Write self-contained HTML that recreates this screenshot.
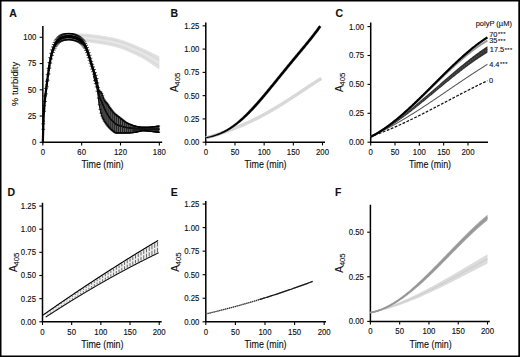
<!DOCTYPE html>
<html><head><meta charset="utf-8"><style>
html,body{margin:0;padding:0;background:#fff;}
body{width:520px;height:357px;overflow:hidden;}
svg{display:block;}
text{stroke:#111;stroke-width:0.12px;}
</style></head><body>
<svg width="520" height="357" viewBox="0 0 520 357" font-family="Liberation Sans, sans-serif" fill="#111">
<rect x="0" y="0" width="520" height="357" fill="#fff"/>
<path d="M42.85 26.00V142.30H162.20" fill="none" stroke="#000" stroke-width="1.5"/>
<line x1="39.65" y1="142.30" x2="42.85" y2="142.30" stroke="#000" stroke-width="1.1"/>
<text transform="translate(36.35,145.20) scale(1,1.12)" text-anchor="end" font-size="7.8">0</text>
<line x1="39.65" y1="116.05" x2="42.85" y2="116.05" stroke="#000" stroke-width="1.1"/>
<text transform="translate(36.35,118.95) scale(1,1.12)" text-anchor="end" font-size="7.8">25</text>
<line x1="39.65" y1="89.80" x2="42.85" y2="89.80" stroke="#000" stroke-width="1.1"/>
<text transform="translate(36.35,92.70) scale(1,1.12)" text-anchor="end" font-size="7.8">50</text>
<line x1="39.65" y1="63.55" x2="42.85" y2="63.55" stroke="#000" stroke-width="1.1"/>
<text transform="translate(36.35,66.45) scale(1,1.12)" text-anchor="end" font-size="7.8">75</text>
<line x1="39.65" y1="37.30" x2="42.85" y2="37.30" stroke="#000" stroke-width="1.1"/>
<text transform="translate(36.35,40.20) scale(1,1.12)" text-anchor="end" font-size="7.8">100</text>
<line x1="42.85" y1="142.30" x2="42.85" y2="145.50" stroke="#000" stroke-width="1.1"/>
<text transform="translate(42.85,155.20) scale(1,1.12)" text-anchor="middle" font-size="7.8">0</text>
<line x1="81.68" y1="142.30" x2="81.68" y2="145.50" stroke="#000" stroke-width="1.1"/>
<text transform="translate(81.68,155.20) scale(1,1.12)" text-anchor="middle" font-size="7.8">60</text>
<line x1="120.51" y1="142.30" x2="120.51" y2="145.50" stroke="#000" stroke-width="1.1"/>
<text transform="translate(120.51,155.20) scale(1,1.12)" text-anchor="middle" font-size="7.8">120</text>
<line x1="159.35" y1="142.30" x2="159.35" y2="145.50" stroke="#000" stroke-width="1.1"/>
<text transform="translate(159.35,155.20) scale(1,1.12)" text-anchor="middle" font-size="7.8">180</text>
<text transform="translate(9.3,17.0) scale(1,1.12)" font-size="10.5" font-weight="bold">A</text>
<text transform="translate(102.5,167.7) scale(1,1.14)" text-anchor="middle" font-size="8.9">Time (min)</text>
<text transform="translate(17.5,84.0) rotate(-90)" text-anchor="middle" font-size="9.5">% turbidity</text>
<polygon points="62.27,35.22 63.08,35.01 63.90,34.78 64.71,34.54 65.53,34.30 66.34,34.08 67.16,33.89 67.98,33.75 68.79,33.67 69.61,33.61 70.42,33.57 71.24,33.53 72.06,33.50 72.87,33.47 73.69,33.45 74.50,33.43 75.32,33.42 76.13,33.42 76.95,33.42 77.77,33.43 78.58,33.45 79.40,33.46 80.21,33.49 81.03,33.52 81.85,33.55 82.66,33.59 83.48,33.63 84.29,33.68 85.11,33.73 85.92,33.79 86.74,33.85 87.56,33.91 88.37,33.98 89.19,34.05 90.00,34.12 90.82,34.20 91.63,34.28 92.45,34.37 93.27,34.45 94.08,34.55 94.90,34.64 95.71,34.74 96.53,34.84 97.35,34.95 98.16,35.06 98.98,35.17 99.79,35.28 100.61,35.40 101.42,35.53 102.24,35.65 103.06,35.78 103.87,35.92 104.69,36.05 105.50,36.19 106.32,36.33 107.13,36.48 107.95,36.63 108.77,36.78 109.58,36.94 110.40,37.10 111.21,37.26 112.03,37.43 112.85,37.60 113.66,37.77 114.48,37.95 115.29,38.13 116.11,38.32 116.92,38.52 117.74,38.73 118.56,38.95 119.37,39.19 120.19,39.43 121.00,39.68 121.82,39.94 122.64,40.21 123.45,40.49 124.27,40.77 125.08,41.06 125.90,41.36 126.71,41.67 127.53,41.98 128.35,42.29 129.16,42.61 129.98,42.94 130.79,43.27 131.61,43.60 132.42,43.93 133.24,44.27 134.06,44.61 134.87,44.96 135.69,45.30 136.50,45.65 137.32,46.00 138.14,46.34 138.95,46.69 139.77,47.04 140.58,47.38 141.40,47.74 142.21,48.10 143.03,48.47 143.85,48.84 144.66,49.21 145.48,49.59 146.29,49.98 147.11,50.37 147.92,50.76 148.74,51.15 149.56,51.55 150.37,51.95 151.19,52.35 152.00,52.75 152.82,53.15 153.64,53.55 154.45,53.95 155.27,54.35 156.08,54.75 156.90,55.14 157.71,55.54 158.53,55.93 159.35,56.32 159.35,69.52 158.53,68.99 157.71,68.46 156.90,67.91 156.08,67.37 155.27,66.81 154.45,66.25 153.64,65.69 152.82,65.13 152.00,64.57 151.19,64.01 150.37,63.45 149.56,62.89 148.74,62.35 147.92,61.80 147.11,61.27 146.29,60.74 145.48,60.23 144.66,59.73 143.85,59.24 143.03,58.76 142.21,58.30 141.40,57.86 140.58,57.43 139.77,57.03 138.95,56.63 138.14,56.23 137.32,55.83 136.50,55.44 135.69,55.05 134.87,54.66 134.06,54.27 133.24,53.89 132.42,53.51 131.61,53.14 130.79,52.77 129.98,52.40 129.16,52.04 128.35,51.69 127.53,51.35 126.71,51.00 125.90,50.67 125.08,50.35 124.27,50.03 123.45,49.72 122.64,49.41 121.82,49.12 121.00,48.84 120.19,48.56 119.37,48.30 118.56,48.04 117.74,47.80 116.92,47.57 116.11,47.34 115.29,47.13 114.48,46.94 113.66,46.74 112.85,46.55 112.03,46.37 111.21,46.19 110.40,46.01 109.58,45.84 108.77,45.67 107.95,45.51 107.13,45.35 106.32,45.19 105.50,45.04 104.69,44.89 103.87,44.75 103.06,44.61 102.24,44.47 101.42,44.33 100.61,44.20 99.79,44.07 98.98,43.94 98.16,43.82 97.35,43.70 96.53,43.58 95.71,43.46 94.90,43.35 94.08,43.24 93.27,43.13 92.45,43.02 91.63,42.92 90.82,42.81 90.00,42.71 89.19,42.60 88.37,42.49 87.56,42.37 86.74,42.25 85.92,42.12 85.11,41.99 84.29,41.86 83.48,41.72 82.66,41.59 81.85,41.45 81.03,41.31 80.21,41.18 79.40,41.04 78.58,40.91 77.77,40.77 76.95,40.65 76.13,40.52 75.32,40.40 74.50,40.29 73.69,40.18 72.87,40.07 72.06,39.98 71.24,39.89 70.42,39.81 69.61,39.74 68.79,39.67 67.98,39.64 67.16,39.66 66.34,39.73 65.53,39.82 64.71,39.92 63.90,40.03 63.08,40.14 62.27,40.22" fill="#e1e1e1"/>
<polyline points="62.27,38.97 63.08,38.85 63.90,38.72 64.71,38.58 65.53,38.44 66.34,38.32 67.16,38.22 67.98,38.17 68.79,38.17 69.61,38.21 70.42,38.25 71.24,38.30 72.06,38.36 72.87,38.42 73.69,38.49 74.50,38.57 75.32,38.66 76.13,38.75 76.95,38.84 77.77,38.94 78.58,39.04 79.40,39.15 80.21,39.25 81.03,39.36 81.85,39.47 82.66,39.59 83.48,39.70 84.29,39.81 85.11,39.93 85.92,40.04 86.74,40.15 87.56,40.26 88.37,40.36 89.19,40.46 90.00,40.56 90.82,40.66 91.63,40.76 92.45,40.86 93.27,40.96 94.08,41.06 94.90,41.17 95.71,41.28 96.53,41.39 97.35,41.51 98.16,41.63 98.98,41.75 99.79,41.87 100.61,42.00 101.42,42.13 102.24,42.26 103.06,42.40 103.87,42.54 104.69,42.68 105.50,42.83 106.32,42.98 107.13,43.13 107.95,43.29 108.77,43.45 109.58,43.62 110.40,43.78 111.21,43.96 112.03,44.13 112.85,44.31 113.66,44.50 114.48,44.69 115.29,44.88 116.11,45.09 116.92,45.30 117.74,45.53 118.56,45.77 119.37,46.02 120.19,46.28 121.00,46.55 121.82,46.83 122.64,47.11 123.45,47.41 124.27,47.71 125.08,48.02 125.90,48.34 126.71,48.67 127.53,49.00 128.35,49.34 129.16,49.69 129.98,50.04 130.79,50.39 131.61,50.75 132.42,51.12 133.24,51.49 134.06,51.86 134.87,52.23 135.69,52.61 136.50,52.99 137.32,53.37 138.14,53.76 138.95,54.14 139.77,54.53 140.58,54.92 141.40,55.33 142.21,55.75 143.03,56.19 143.85,56.64 144.66,57.10 145.48,57.57 146.29,58.05 147.11,58.54 147.92,59.04 148.74,59.55 149.56,60.06 150.37,60.57 151.19,61.09 152.00,61.61 152.82,62.13 153.64,62.66 154.45,63.18 155.27,63.70 156.08,64.21 156.90,64.72 157.71,65.23 158.53,65.73 159.35,66.22" fill="none" stroke="#d2d2d2" stroke-width="0.8"/>
<polyline points="62.27,36.47 63.08,36.29 63.90,36.09 64.71,35.88 65.53,35.68 66.34,35.49 67.16,35.34 67.98,35.22 68.79,35.17 69.61,35.14 70.42,35.13 71.24,35.12 72.06,35.12 72.87,35.12 73.69,35.13 74.50,35.15 75.32,35.17 76.13,35.20 76.95,35.23 77.77,35.27 78.58,35.31 79.40,35.36 80.21,35.41 81.03,35.47 81.85,35.53 82.66,35.59 83.48,35.65 84.29,35.72 85.11,35.80 85.92,35.87 86.74,35.95 87.56,36.02 88.37,36.10 89.19,36.19 90.00,36.27 90.82,36.35 91.63,36.44 92.45,36.53 93.27,36.62 94.08,36.72 94.90,36.82 95.71,36.92 96.53,37.03 97.35,37.13 98.16,37.25 98.98,37.36 99.79,37.48 100.61,37.60 101.42,37.73 102.24,37.86 103.06,37.99 103.87,38.12 104.69,38.26 105.50,38.40 106.32,38.55 107.13,38.70 107.95,38.85 108.77,39.01 109.58,39.16 110.40,39.33 111.21,39.49 112.03,39.66 112.85,39.84 113.66,40.01 114.48,40.19 115.29,40.38 116.11,40.57 116.92,40.78 117.74,41.00 118.56,41.23 119.37,41.47 120.19,41.71 121.00,41.97 121.82,42.24 122.64,42.51 123.45,42.80 124.27,43.09 125.08,43.38 125.90,43.69 126.71,44.00 127.53,44.32 128.35,44.64 129.16,44.97 129.98,45.30 130.79,45.64 131.61,45.98 132.42,46.33 133.24,46.68 134.06,47.03 134.87,47.38 135.69,47.74 136.50,48.10 137.32,48.45 138.14,48.81 138.95,49.17 139.77,49.53 140.58,49.90 141.40,50.27 142.21,50.65 143.03,51.04 143.85,51.44 144.66,51.84 145.48,52.25 146.29,52.67 147.11,53.09 147.92,53.52 148.74,53.95 149.56,54.39 150.37,54.82 151.19,55.26 152.00,55.70 152.82,56.14 153.64,56.59 154.45,57.03 155.27,57.47 156.08,57.90 156.90,58.34 157.71,58.77 158.53,59.20 159.35,59.62" fill="none" stroke="#d2d2d2" stroke-width="0.8"/>
<polyline points="62.27,37.72 63.08,37.57 63.90,37.41 64.71,37.23 65.53,37.06 66.34,36.90 67.16,36.78 67.98,36.70 68.79,36.67 69.61,36.67 70.42,36.69 71.24,36.71 72.06,36.74 72.87,36.77 73.69,36.81 74.50,36.86 75.32,36.91 76.13,36.97 76.95,37.04 77.77,37.10 78.58,37.18 79.40,37.25 80.21,37.33 81.03,37.41 81.85,37.50 82.66,37.59 83.48,37.68 84.29,37.77 85.11,37.86 85.92,37.95 86.74,38.05 87.56,38.14 88.37,38.23 89.19,38.33 90.00,38.42 90.82,38.51 91.63,38.60 92.45,38.69 93.27,38.79 94.08,38.89 94.90,39.00 95.71,39.10 96.53,39.21 97.35,39.32 98.16,39.44 98.98,39.56 99.79,39.68 100.61,39.80 101.42,39.93 102.24,40.06 103.06,40.19 103.87,40.33 104.69,40.47 105.50,40.62 106.32,40.76 107.13,40.92 107.95,41.07 108.77,41.23 109.58,41.39 110.40,41.56 111.21,41.73 112.03,41.90 112.85,42.08 113.66,42.26 114.48,42.44 115.29,42.63 116.11,42.83 116.92,43.04 117.74,43.27 118.56,43.50 119.37,43.74 120.19,44.00 121.00,44.26 121.82,44.53 122.64,44.81 123.45,45.10 124.27,45.40 125.08,45.70 125.90,46.02 126.71,46.34 127.53,46.66 128.35,46.99 129.16,47.33 129.98,47.67 130.79,48.02 131.61,48.37 132.42,48.72 133.24,49.08 134.06,49.44 134.87,49.81 135.69,50.17 136.50,50.54 137.32,50.91 138.14,51.29 138.95,51.66 139.77,52.03 140.58,52.41 141.40,52.80 142.21,53.20 143.03,53.61 143.85,54.04 144.66,54.47 145.48,54.91 146.29,55.36 147.11,55.82 147.92,56.28 148.74,56.75 149.56,57.22 150.37,57.70 151.19,58.18 152.00,58.66 152.82,59.14 153.64,59.62 154.45,60.10 155.27,60.58 156.08,61.06 156.90,61.53 157.71,62.00 158.53,62.46 159.35,62.92" fill="none" stroke="#ececec" stroke-width="0.9"/>
<polygon points="93.33,72.37 93.55,73.00 93.77,73.63 93.99,74.26 94.21,74.89 94.44,75.51 94.66,76.14 94.88,76.77 95.10,77.39 95.32,78.02 95.54,78.65 95.76,79.28 95.98,79.91 96.20,80.55 96.42,81.18 96.64,81.82 96.86,82.47 97.08,83.12 97.31,83.78 97.53,84.50 97.75,85.27 97.97,86.08 98.19,86.91 98.41,87.72 98.63,88.51 98.85,89.25 99.07,89.92 99.29,90.50 99.51,90.97 99.73,91.30 99.96,91.50 100.18,91.65 100.40,91.76 100.62,91.87 100.84,92.00 101.06,92.20 101.28,92.48 101.50,92.84 101.72,93.28 101.94,93.77 102.16,94.30 102.38,94.88 102.60,95.48 102.83,96.09 103.05,96.70 103.27,97.31 103.49,97.90 103.71,98.46 103.93,98.97 104.15,99.44 104.37,99.84 104.59,100.20 104.81,100.55 105.03,100.88 105.25,101.19 105.47,101.49 105.70,101.79 105.92,102.07 106.14,102.35 106.36,102.63 106.58,102.90 106.80,103.17 107.02,103.45 107.24,103.73 107.46,104.02 107.68,104.32 107.90,104.63 108.12,104.95 108.34,105.29 108.57,105.63 108.79,105.98 109.01,106.33 109.23,106.67 109.45,107.02 109.67,107.36 109.89,107.69 110.11,108.00 110.33,108.31 110.55,108.61 110.77,108.92 110.99,109.22 111.22,109.51 111.44,109.81 111.66,110.10 111.88,110.39 112.10,110.67 112.32,110.95 112.54,111.22 112.76,111.49 112.98,111.75 113.20,112.00 113.42,112.25 113.64,112.49 113.86,112.72 114.09,112.94 114.31,113.16 114.53,113.37 114.75,113.58 114.97,113.78 115.19,113.97 115.41,114.17 115.63,114.36 115.85,114.54 116.07,114.72 116.29,114.90 116.51,115.08 116.73,115.25 116.96,115.43 117.18,115.60 117.40,115.76 117.62,115.93 117.84,116.10 118.06,116.26 118.28,116.43 118.50,116.59 118.72,116.76 118.94,116.92 119.16,117.09 119.38,117.26 119.60,117.42 119.83,117.59 120.05,117.76 120.27,117.94 120.49,118.11 120.71,118.29 120.93,118.47 121.15,118.65 121.37,118.82 121.59,119.00 121.81,119.18 122.03,119.36 122.25,119.54 122.48,119.72 122.70,119.90 122.92,120.08 123.14,120.25 123.36,120.43 123.58,120.60 123.80,120.77 124.02,120.94 124.24,121.11 124.46,121.27 124.68,121.43 124.90,121.59 125.12,121.74 125.35,121.89 125.57,122.04 125.79,122.18 126.01,122.32 126.23,122.45 126.45,122.58 126.67,122.71 126.89,122.83 127.11,122.94 127.33,123.05 127.55,123.16 127.77,123.27 127.99,123.38 128.22,123.48 128.44,123.59 128.66,123.69 128.88,123.79 129.10,123.89 129.32,123.99 129.54,124.09 129.76,124.18 129.98,124.28 130.20,124.37 130.42,124.46 130.64,124.55 130.86,124.64 131.09,124.72 131.31,124.81 131.53,124.89 131.75,124.97 131.97,125.05 132.19,125.13 132.41,125.21 132.63,125.28 132.85,125.35 133.07,125.43 133.29,125.50 133.51,125.57 133.74,125.63 133.96,125.70 134.18,125.76 134.40,125.82 134.62,125.88 134.84,125.94 135.06,126.00 135.28,126.06 135.50,126.12 135.72,126.18 135.94,126.24 136.16,126.31 136.38,126.37 136.61,126.43 136.83,126.49 137.05,126.55 137.27,126.61 137.49,126.67 137.71,126.73 137.93,126.78 138.15,126.84 138.37,126.90 138.59,126.95 138.81,127.01 139.03,127.06 139.25,127.11 139.48,127.16 139.70,127.20 139.92,127.25 140.14,127.29 140.36,127.33 140.58,127.37 140.80,127.40 141.02,127.44 141.24,127.47 141.46,127.49 141.68,127.52 141.90,127.54 142.12,127.56 142.35,127.57 142.57,127.59 142.79,127.59 143.01,127.60 143.23,127.60 143.45,127.60 143.67,127.60 143.89,127.59 144.11,127.59 144.33,127.58 144.55,127.57 144.77,127.56 145.00,127.55 145.22,127.54 145.44,127.53 145.66,127.52 145.88,127.50 146.10,127.49 146.32,127.47 146.54,127.46 146.76,127.44 146.98,127.42 147.20,127.40 147.42,127.38 147.64,127.36 147.87,127.34 148.09,127.32 148.31,127.30 148.53,127.28 148.75,127.26 148.97,127.23 149.19,127.21 149.41,127.19 149.63,127.17 149.85,127.14 150.07,127.12 150.29,127.10 150.51,127.08 150.74,127.05 150.96,127.03 151.18,127.01 151.40,126.99 151.62,126.97 151.84,126.94 152.06,126.92 152.28,126.90 152.50,126.87 152.72,126.85 152.94,126.82 153.16,126.79 153.38,126.77 153.61,126.74 153.83,126.71 154.05,126.68 154.27,126.65 154.49,126.62 154.71,126.59 154.93,126.56 155.15,126.53 155.37,126.50 155.59,126.46 155.81,126.43 156.03,126.40 156.26,126.37 156.48,126.33 156.70,126.30 156.92,126.27 157.14,126.24 157.36,126.20 157.58,126.17 157.80,126.14 158.02,126.11 158.24,126.07 158.46,126.04 158.68,126.01 158.90,125.98 159.13,125.95 159.35,125.92 159.35,132.43 159.13,132.40 158.90,132.38 158.68,132.35 158.46,132.32 158.24,132.29 158.02,132.27 157.80,132.24 157.58,132.21 157.36,132.18 157.14,132.15 156.92,132.12 156.70,132.10 156.48,132.07 156.26,132.04 156.03,132.01 155.81,131.98 155.59,131.95 155.37,131.93 155.15,131.90 154.93,131.87 154.71,131.84 154.49,131.82 154.27,131.79 154.05,131.76 153.83,131.74 153.61,131.71 153.38,131.68 153.16,131.66 152.94,131.63 152.72,131.61 152.50,131.58 152.28,131.56 152.06,131.54 151.84,131.51 151.62,131.49 151.40,131.47 151.18,131.44 150.96,131.42 150.74,131.39 150.51,131.37 150.29,131.34 150.07,131.32 149.85,131.29 149.63,131.27 149.41,131.24 149.19,131.22 148.97,131.19 148.75,131.16 148.53,131.14 148.31,131.11 148.09,131.09 147.87,131.06 147.64,131.04 147.42,131.02 147.20,130.99 146.98,130.97 146.76,130.95 146.54,130.93 146.32,130.91 146.10,130.89 145.88,130.87 145.66,130.85 145.44,130.84 145.22,130.82 145.00,130.81 144.77,130.79 144.55,130.78 144.33,130.77 144.11,130.77 143.89,130.76 143.67,130.75 143.45,130.75 143.23,130.75 143.01,130.75 142.79,130.76 142.57,130.77 142.35,130.79 142.12,130.81 141.90,130.83 141.68,130.86 141.46,130.90 141.24,130.93 141.02,130.97 140.80,131.02 140.58,131.06 140.36,131.11 140.14,131.16 139.92,131.21 139.70,131.27 139.48,131.33 139.25,131.38 139.03,131.44 138.81,131.50 138.59,131.56 138.37,131.62 138.15,131.68 137.93,131.74 137.71,131.80 137.49,131.86 137.27,131.92 137.05,131.98 136.83,132.03 136.61,132.08 136.38,132.14 136.16,132.18 135.94,132.23 135.72,132.28 135.50,132.32 135.28,132.35 135.06,132.39 134.84,132.42 134.62,132.45 134.40,132.47 134.18,132.50 133.96,132.53 133.74,132.55 133.51,132.58 133.29,132.60 133.07,132.63 132.85,132.65 132.63,132.67 132.41,132.70 132.19,132.72 131.97,132.74 131.75,132.76 131.53,132.77 131.31,132.79 131.09,132.80 130.86,132.82 130.64,132.83 130.42,132.84 130.20,132.85 129.98,132.86 129.76,132.87 129.54,132.88 129.32,132.88 129.10,132.89 128.88,132.90 128.66,132.91 128.44,132.91 128.22,132.92 127.99,132.93 127.77,132.94 127.55,132.94 127.33,132.95 127.11,132.96 126.89,132.96 126.67,132.97 126.45,132.97 126.23,132.98 126.01,132.99 125.79,132.99 125.57,133.00 125.35,133.00 125.12,133.01 124.90,133.01 124.68,133.02 124.46,133.02 124.24,133.02 124.02,133.03 123.80,133.03 123.58,133.04 123.36,133.04 123.14,133.04 122.92,133.04 122.70,133.05 122.48,133.05 122.25,133.05 122.03,133.05 121.81,133.06 121.59,133.06 121.37,133.06 121.15,133.06 120.93,133.06 120.71,133.06 120.49,133.06 120.27,133.06 120.05,133.06 119.83,133.06 119.60,133.06 119.38,133.05 119.16,133.05 118.94,133.05 118.72,133.04 118.50,133.04 118.28,133.03 118.06,133.03 117.84,133.02 117.62,133.02 117.40,133.01 117.18,133.00 116.96,133.00 116.73,132.99 116.51,132.98 116.29,132.97 116.07,132.96 115.85,132.94 115.63,132.90 115.41,132.83 115.19,132.73 114.97,132.62 114.75,132.48 114.53,132.33 114.31,132.17 114.09,132.00 113.86,131.82 113.64,131.63 113.42,131.45 113.20,131.27 112.98,131.09 112.76,130.92 112.54,130.75 112.32,130.58 112.10,130.40 111.88,130.21 111.66,130.03 111.44,129.83 111.22,129.64 110.99,129.43 110.77,129.23 110.55,129.02 110.33,128.80 110.11,128.58 109.89,128.36 109.67,128.13 109.45,127.89 109.23,127.65 109.01,127.41 108.79,127.16 108.57,126.91 108.34,126.65 108.12,126.39 107.90,126.12 107.68,125.84 107.46,125.57 107.24,125.29 107.02,125.02 106.80,124.74 106.58,124.45 106.36,124.16 106.14,123.86 105.92,123.56 105.70,123.25 105.47,122.94 105.25,122.61 105.03,122.28 104.81,121.94 104.59,121.58 104.37,121.21 104.15,120.84 103.93,120.45 103.71,120.04 103.49,119.62 103.27,119.19 103.05,118.74 102.83,118.27 102.60,117.78 102.38,117.28 102.16,116.76 101.94,116.22 101.72,115.64 101.50,115.00 101.28,114.28 101.06,113.50 100.84,112.65 100.62,111.74 100.40,110.78 100.18,109.78 99.96,108.72 99.73,107.62 99.51,106.49 99.29,105.28 99.07,103.85 98.85,102.22 98.63,100.45 98.41,98.61 98.19,96.75 97.97,94.93 97.75,93.21 97.53,91.64 97.31,90.28 97.08,89.16 96.86,88.12 96.64,87.14 96.42,86.21 96.20,85.34 95.98,84.50 95.76,83.70 95.54,82.94 95.32,82.19 95.10,81.47 94.88,80.75 94.66,80.05 94.44,79.34 94.21,78.63 93.99,77.91 93.77,77.18 93.55,76.41 93.33,75.63" fill="#666"/>
<polyline points="93.33,72.37 93.55,73.00 93.77,73.63 93.99,74.26 94.21,74.89 94.44,75.51 94.66,76.14 94.88,76.77 95.10,77.39 95.32,78.02 95.54,78.65 95.76,79.28 95.98,79.91 96.20,80.55 96.42,81.18 96.64,81.82 96.86,82.47 97.08,83.12 97.31,83.78 97.53,84.50 97.75,85.27 97.97,86.08 98.19,86.91 98.41,87.72 98.63,88.51 98.85,89.25 99.07,89.92 99.29,90.50 99.51,90.97 99.73,91.30 99.96,91.50 100.18,91.65 100.40,91.76 100.62,91.87 100.84,92.00 101.06,92.20 101.28,92.48 101.50,92.84 101.72,93.28 101.94,93.77 102.16,94.30 102.38,94.88 102.60,95.48 102.83,96.09 103.05,96.70 103.27,97.31 103.49,97.90 103.71,98.46 103.93,98.97 104.15,99.44 104.37,99.84 104.59,100.20 104.81,100.55 105.03,100.88 105.25,101.19 105.47,101.49 105.70,101.79 105.92,102.07 106.14,102.35 106.36,102.63 106.58,102.90 106.80,103.17 107.02,103.45 107.24,103.73 107.46,104.02 107.68,104.32 107.90,104.63 108.12,104.95 108.34,105.29 108.57,105.63 108.79,105.98 109.01,106.33 109.23,106.67 109.45,107.02 109.67,107.36 109.89,107.69 110.11,108.00 110.33,108.31 110.55,108.61 110.77,108.92 110.99,109.22 111.22,109.51 111.44,109.81 111.66,110.10 111.88,110.39 112.10,110.67 112.32,110.95 112.54,111.22 112.76,111.49 112.98,111.75 113.20,112.00 113.42,112.25 113.64,112.49 113.86,112.72 114.09,112.94 114.31,113.16 114.53,113.37 114.75,113.58 114.97,113.78 115.19,113.97 115.41,114.17 115.63,114.36 115.85,114.54 116.07,114.72 116.29,114.90 116.51,115.08 116.73,115.25 116.96,115.43 117.18,115.60 117.40,115.76 117.62,115.93 117.84,116.10 118.06,116.26 118.28,116.43 118.50,116.59 118.72,116.76 118.94,116.92 119.16,117.09 119.38,117.26 119.60,117.42 119.83,117.59 120.05,117.76 120.27,117.94 120.49,118.11 120.71,118.29 120.93,118.47 121.15,118.65 121.37,118.82 121.59,119.00 121.81,119.18 122.03,119.36 122.25,119.54 122.48,119.72 122.70,119.90 122.92,120.08 123.14,120.25 123.36,120.43 123.58,120.60 123.80,120.77 124.02,120.94 124.24,121.11 124.46,121.27 124.68,121.43 124.90,121.59 125.12,121.74 125.35,121.89 125.57,122.04 125.79,122.18 126.01,122.32 126.23,122.45 126.45,122.58 126.67,122.71 126.89,122.83 127.11,122.94 127.33,123.05 127.55,123.16 127.77,123.27 127.99,123.38 128.22,123.48 128.44,123.59 128.66,123.69 128.88,123.79 129.10,123.89 129.32,123.99 129.54,124.09 129.76,124.18 129.98,124.28 130.20,124.37 130.42,124.46 130.64,124.55 130.86,124.64 131.09,124.72 131.31,124.81 131.53,124.89 131.75,124.97 131.97,125.05 132.19,125.13 132.41,125.21 132.63,125.28 132.85,125.35 133.07,125.43 133.29,125.50 133.51,125.57 133.74,125.63 133.96,125.70 134.18,125.76 134.40,125.82 134.62,125.88 134.84,125.94 135.06,126.00 135.28,126.06 135.50,126.12 135.72,126.18 135.94,126.24 136.16,126.31 136.38,126.37 136.61,126.43 136.83,126.49 137.05,126.55 137.27,126.61 137.49,126.67 137.71,126.73 137.93,126.78 138.15,126.84 138.37,126.90 138.59,126.95 138.81,127.01 139.03,127.06 139.25,127.11 139.48,127.16 139.70,127.20 139.92,127.25 140.14,127.29 140.36,127.33 140.58,127.37 140.80,127.40 141.02,127.44 141.24,127.47 141.46,127.49 141.68,127.52 141.90,127.54 142.12,127.56 142.35,127.57 142.57,127.59 142.79,127.59 143.01,127.60 143.23,127.60 143.45,127.60 143.67,127.60 143.89,127.59 144.11,127.59 144.33,127.58 144.55,127.57 144.77,127.56 145.00,127.55 145.22,127.54 145.44,127.53 145.66,127.52 145.88,127.50 146.10,127.49 146.32,127.47 146.54,127.46 146.76,127.44 146.98,127.42 147.20,127.40 147.42,127.38 147.64,127.36 147.87,127.34 148.09,127.32 148.31,127.30 148.53,127.28 148.75,127.26 148.97,127.23 149.19,127.21 149.41,127.19 149.63,127.17 149.85,127.14 150.07,127.12 150.29,127.10 150.51,127.08 150.74,127.05 150.96,127.03 151.18,127.01 151.40,126.99 151.62,126.97 151.84,126.94 152.06,126.92 152.28,126.90 152.50,126.87 152.72,126.85 152.94,126.82 153.16,126.79 153.38,126.77 153.61,126.74 153.83,126.71 154.05,126.68 154.27,126.65 154.49,126.62 154.71,126.59 154.93,126.56 155.15,126.53 155.37,126.50 155.59,126.46 155.81,126.43 156.03,126.40 156.26,126.37 156.48,126.33 156.70,126.30 156.92,126.27 157.14,126.24 157.36,126.20 157.58,126.17 157.80,126.14 158.02,126.11 158.24,126.07 158.46,126.04 158.68,126.01 158.90,125.98 159.13,125.95 159.35,125.92" fill="none" stroke="#000" stroke-width="1.1"/>
<polyline points="93.33,75.63 93.55,76.41 93.77,77.18 93.99,77.91 94.21,78.63 94.44,79.34 94.66,80.05 94.88,80.75 95.10,81.47 95.32,82.19 95.54,82.94 95.76,83.70 95.98,84.50 96.20,85.34 96.42,86.21 96.64,87.14 96.86,88.12 97.08,89.16 97.31,90.28 97.53,91.64 97.75,93.21 97.97,94.93 98.19,96.75 98.41,98.61 98.63,100.45 98.85,102.22 99.07,103.85 99.29,105.28 99.51,106.49 99.73,107.62 99.96,108.72 100.18,109.78 100.40,110.78 100.62,111.74 100.84,112.65 101.06,113.50 101.28,114.28 101.50,115.00 101.72,115.64 101.94,116.22 102.16,116.76 102.38,117.28 102.60,117.78 102.83,118.27 103.05,118.74 103.27,119.19 103.49,119.62 103.71,120.04 103.93,120.45 104.15,120.84 104.37,121.21 104.59,121.58 104.81,121.94 105.03,122.28 105.25,122.61 105.47,122.94 105.70,123.25 105.92,123.56 106.14,123.86 106.36,124.16 106.58,124.45 106.80,124.74 107.02,125.02 107.24,125.29 107.46,125.57 107.68,125.84 107.90,126.12 108.12,126.39 108.34,126.65 108.57,126.91 108.79,127.16 109.01,127.41 109.23,127.65 109.45,127.89 109.67,128.13 109.89,128.36 110.11,128.58 110.33,128.80 110.55,129.02 110.77,129.23 110.99,129.43 111.22,129.64 111.44,129.83 111.66,130.03 111.88,130.21 112.10,130.40 112.32,130.58 112.54,130.75 112.76,130.92 112.98,131.09 113.20,131.27 113.42,131.45 113.64,131.63 113.86,131.82 114.09,132.00 114.31,132.17 114.53,132.33 114.75,132.48 114.97,132.62 115.19,132.73 115.41,132.83 115.63,132.90 115.85,132.94 116.07,132.96 116.29,132.97 116.51,132.98 116.73,132.99 116.96,133.00 117.18,133.00 117.40,133.01 117.62,133.02 117.84,133.02 118.06,133.03 118.28,133.03 118.50,133.04 118.72,133.04 118.94,133.05 119.16,133.05 119.38,133.05 119.60,133.06 119.83,133.06 120.05,133.06 120.27,133.06 120.49,133.06 120.71,133.06 120.93,133.06 121.15,133.06 121.37,133.06 121.59,133.06 121.81,133.06 122.03,133.05 122.25,133.05 122.48,133.05 122.70,133.05 122.92,133.04 123.14,133.04 123.36,133.04 123.58,133.04 123.80,133.03 124.02,133.03 124.24,133.02 124.46,133.02 124.68,133.02 124.90,133.01 125.12,133.01 125.35,133.00 125.57,133.00 125.79,132.99 126.01,132.99 126.23,132.98 126.45,132.97 126.67,132.97 126.89,132.96 127.11,132.96 127.33,132.95 127.55,132.94 127.77,132.94 127.99,132.93 128.22,132.92 128.44,132.91 128.66,132.91 128.88,132.90 129.10,132.89 129.32,132.88 129.54,132.88 129.76,132.87 129.98,132.86 130.20,132.85 130.42,132.84 130.64,132.83 130.86,132.82 131.09,132.80 131.31,132.79 131.53,132.77 131.75,132.76 131.97,132.74 132.19,132.72 132.41,132.70 132.63,132.67 132.85,132.65 133.07,132.63 133.29,132.60 133.51,132.58 133.74,132.55 133.96,132.53 134.18,132.50 134.40,132.47 134.62,132.45 134.84,132.42 135.06,132.39 135.28,132.35 135.50,132.32 135.72,132.28 135.94,132.23 136.16,132.18 136.38,132.14 136.61,132.08 136.83,132.03 137.05,131.98 137.27,131.92 137.49,131.86 137.71,131.80 137.93,131.74 138.15,131.68 138.37,131.62 138.59,131.56 138.81,131.50 139.03,131.44 139.25,131.38 139.48,131.33 139.70,131.27 139.92,131.21 140.14,131.16 140.36,131.11 140.58,131.06 140.80,131.02 141.02,130.97 141.24,130.93 141.46,130.90 141.68,130.86 141.90,130.83 142.12,130.81 142.35,130.79 142.57,130.77 142.79,130.76 143.01,130.75 143.23,130.75 143.45,130.75 143.67,130.75 143.89,130.76 144.11,130.77 144.33,130.77 144.55,130.78 144.77,130.79 145.00,130.81 145.22,130.82 145.44,130.84 145.66,130.85 145.88,130.87 146.10,130.89 146.32,130.91 146.54,130.93 146.76,130.95 146.98,130.97 147.20,130.99 147.42,131.02 147.64,131.04 147.87,131.06 148.09,131.09 148.31,131.11 148.53,131.14 148.75,131.16 148.97,131.19 149.19,131.22 149.41,131.24 149.63,131.27 149.85,131.29 150.07,131.32 150.29,131.34 150.51,131.37 150.74,131.39 150.96,131.42 151.18,131.44 151.40,131.47 151.62,131.49 151.84,131.51 152.06,131.54 152.28,131.56 152.50,131.58 152.72,131.61 152.94,131.63 153.16,131.66 153.38,131.68 153.61,131.71 153.83,131.74 154.05,131.76 154.27,131.79 154.49,131.82 154.71,131.84 154.93,131.87 155.15,131.90 155.37,131.93 155.59,131.95 155.81,131.98 156.03,132.01 156.26,132.04 156.48,132.07 156.70,132.10 156.92,132.12 157.14,132.15 157.36,132.18 157.58,132.21 157.80,132.24 158.02,132.27 158.24,132.29 158.46,132.32 158.68,132.35 158.90,132.38 159.13,132.40 159.35,132.43" fill="none" stroke="#000" stroke-width="1.1"/>
<polyline points="42.85,142.30 43.01,136.45 43.17,130.65 43.34,125.62 43.50,121.18" fill="none" stroke="#000" stroke-width="2.21" stroke-linecap="round"/>
<polyline points="43.50,121.18 43.66,117.21 43.82,113.95 43.98,111.29 44.14,108.94" fill="none" stroke="#000" stroke-width="2.22" stroke-linecap="round"/>
<polyline points="44.14,108.94 44.31,106.82 44.47,104.90 44.63,103.09 44.79,101.35" fill="none" stroke="#000" stroke-width="2.23" stroke-linecap="round"/>
<polyline points="44.79,101.35 44.95,99.68 45.12,98.11 45.28,96.62 45.44,95.20" fill="none" stroke="#000" stroke-width="2.24" stroke-linecap="round"/>
<polyline points="45.44,95.20 45.60,93.82 45.76,92.47 45.92,91.14 46.09,89.80" fill="none" stroke="#000" stroke-width="2.25" stroke-linecap="round"/>
<polyline points="46.09,89.80 46.25,88.46 46.41,87.14 46.57,85.84 46.73,84.55" fill="none" stroke="#000" stroke-width="2.25" stroke-linecap="round"/>
<polyline points="46.73,84.55 46.90,83.29 47.06,82.04 47.22,80.80 47.38,79.59" fill="none" stroke="#000" stroke-width="2.27" stroke-linecap="round"/>
<polyline points="47.38,79.59 47.54,78.39 47.70,77.20 47.87,76.02 48.03,74.84" fill="none" stroke="#000" stroke-width="2.27" stroke-linecap="round"/>
<polyline points="48.03,74.84 48.19,73.66 48.35,72.49 48.51,71.33 48.67,70.19" fill="none" stroke="#000" stroke-width="2.29" stroke-linecap="round"/>
<polyline points="48.67,70.19 48.84,69.06 49.00,67.97 49.16,66.90 49.32,65.87" fill="none" stroke="#000" stroke-width="2.29" stroke-linecap="round"/>
<polyline points="49.32,65.87 49.48,64.87 49.65,63.92 49.81,63.01 49.97,62.11" fill="none" stroke="#000" stroke-width="2.31" stroke-linecap="round"/>
<polyline points="49.97,62.11 50.13,61.23 50.29,60.37 50.45,59.52 50.62,58.70" fill="none" stroke="#000" stroke-width="2.31" stroke-linecap="round"/>
<polyline points="50.62,58.70 50.78,57.90 50.94,57.12 51.10,56.37 51.26,55.64" fill="none" stroke="#000" stroke-width="2.33" stroke-linecap="round"/>
<polyline points="51.26,55.64 51.43,54.94 51.59,54.28 51.75,53.65 51.91,53.05" fill="none" stroke="#000" stroke-width="2.33" stroke-linecap="round"/>
<polyline points="51.91,53.05 52.07,52.48 52.23,51.92 52.40,51.38 52.56,50.85" fill="none" stroke="#000" stroke-width="2.34" stroke-linecap="round"/>
<polyline points="52.56,50.85 52.72,50.33 52.88,49.83 53.04,49.35 53.21,48.88" fill="none" stroke="#000" stroke-width="2.35" stroke-linecap="round"/>
<polyline points="53.21,48.88 53.37,48.43 53.53,47.99 53.69,47.57 53.85,47.17" fill="none" stroke="#000" stroke-width="2.36" stroke-linecap="round"/>
<polyline points="53.85,47.17 54.01,46.77 54.18,46.40 54.34,46.04 54.50,45.70" fill="none" stroke="#000" stroke-width="2.38" stroke-linecap="round"/>
<polyline points="54.50,45.70 54.66,45.37 54.82,45.05 54.98,44.74 55.15,44.43" fill="none" stroke="#000" stroke-width="2.38" stroke-linecap="round"/>
<polyline points="55.15,44.43 55.31,44.14 55.47,43.86 55.63,43.58 55.79,43.31" fill="none" stroke="#000" stroke-width="2.40" stroke-linecap="round"/>
<polyline points="55.79,43.31 55.96,43.05 56.12,42.81 56.28,42.57 56.44,42.33" fill="none" stroke="#000" stroke-width="2.40" stroke-linecap="round"/>
<polyline points="56.44,42.33 56.60,42.11 56.76,41.90 56.93,41.69 57.09,41.50" fill="none" stroke="#000" stroke-width="2.42" stroke-linecap="round"/>
<polyline points="57.09,41.50 57.25,41.31 57.41,41.12 57.57,40.94 57.74,40.76" fill="none" stroke="#000" stroke-width="2.42" stroke-linecap="round"/>
<polyline points="57.74,40.76 57.90,40.59 58.06,40.42 58.22,40.25 58.38,40.08" fill="none" stroke="#000" stroke-width="2.44" stroke-linecap="round"/>
<polyline points="58.38,40.08 58.54,39.93 58.71,39.77 58.87,39.62 59.03,39.48" fill="none" stroke="#000" stroke-width="2.44" stroke-linecap="round"/>
<polyline points="59.03,39.48 59.19,39.34 59.35,39.21 59.52,39.09 59.68,38.97" fill="none" stroke="#000" stroke-width="2.46" stroke-linecap="round"/>
<polyline points="59.68,38.97 59.84,38.86 60.00,38.75 60.16,38.65 60.32,38.56" fill="none" stroke="#000" stroke-width="2.46" stroke-linecap="round"/>
<polyline points="60.32,38.56 60.49,38.47 60.65,38.39 60.81,38.31 60.97,38.22" fill="none" stroke="#000" stroke-width="2.48" stroke-linecap="round"/>
<polyline points="60.97,38.22 61.13,38.14 61.30,38.07 61.46,37.99 61.62,37.92" fill="none" stroke="#000" stroke-width="2.48" stroke-linecap="round"/>
<polyline points="61.62,37.92 61.78,37.85 61.94,37.78 62.10,37.71 62.27,37.65" fill="none" stroke="#000" stroke-width="2.50" stroke-linecap="round"/>
<polyline points="62.27,37.65 62.43,37.59 62.59,37.53 62.75,37.47 62.91,37.42" fill="none" stroke="#000" stroke-width="2.50" stroke-linecap="round"/>
<polyline points="62.91,37.42 63.08,37.37 63.24,37.32 63.40,37.27 63.56,37.23" fill="none" stroke="#000" stroke-width="2.52" stroke-linecap="round"/>
<polyline points="63.56,37.23 63.72,37.19 63.88,37.15 64.05,37.12 64.21,37.09" fill="none" stroke="#000" stroke-width="2.52" stroke-linecap="round"/>
<polyline points="64.21,37.09 64.37,37.06 64.53,37.03 64.69,37.00 64.85,36.98" fill="none" stroke="#000" stroke-width="2.54" stroke-linecap="round"/>
<polyline points="64.85,36.98 65.02,36.95 65.18,36.92 65.34,36.89 65.50,36.87" fill="none" stroke="#000" stroke-width="2.54" stroke-linecap="round"/>
<polyline points="65.50,36.87 65.66,36.84 65.83,36.82 65.99,36.79 66.15,36.77" fill="none" stroke="#000" stroke-width="2.56" stroke-linecap="round"/>
<polyline points="66.15,36.77 66.31,36.75 66.47,36.73 66.63,36.71 66.80,36.69" fill="none" stroke="#000" stroke-width="2.56" stroke-linecap="round"/>
<polyline points="66.80,36.69 66.96,36.67 67.12,36.65 67.28,36.64 67.44,36.62" fill="none" stroke="#000" stroke-width="2.58" stroke-linecap="round"/>
<polyline points="67.44,36.62 67.61,36.61 67.77,36.60 67.93,36.59 68.09,36.58" fill="none" stroke="#000" stroke-width="2.58" stroke-linecap="round"/>
<polyline points="68.09,36.58 68.25,36.57 68.41,36.57 68.58,36.57 68.74,36.56" fill="none" stroke="#000" stroke-width="2.60" stroke-linecap="round"/>
<polyline points="68.74,36.56 68.90,36.57 69.06,36.57 69.22,36.57 69.39,36.58" fill="none" stroke="#000" stroke-width="2.60" stroke-linecap="round"/>
<polyline points="69.39,36.58 69.55,36.59 69.71,36.60 69.87,36.61 70.03,36.63" fill="none" stroke="#000" stroke-width="2.58" stroke-linecap="round"/>
<polyline points="70.03,36.63 70.19,36.64 70.36,36.66 70.52,36.68 70.68,36.70" fill="none" stroke="#000" stroke-width="2.58" stroke-linecap="round"/>
<polyline points="70.68,36.70 70.84,36.72 71.00,36.75 71.17,36.77 71.33,36.80" fill="none" stroke="#000" stroke-width="2.56" stroke-linecap="round"/>
<polyline points="71.33,36.80 71.49,36.82 71.65,36.85 71.81,36.88 71.97,36.91" fill="none" stroke="#000" stroke-width="2.56" stroke-linecap="round"/>
<polyline points="71.97,36.91 72.14,36.94 72.30,36.97 72.46,37.00 72.62,37.03" fill="none" stroke="#000" stroke-width="2.54" stroke-linecap="round"/>
<polyline points="72.62,37.03 72.78,37.06 72.94,37.10 73.11,37.13 73.27,37.16" fill="none" stroke="#000" stroke-width="2.54" stroke-linecap="round"/>
<polyline points="73.27,37.16 73.43,37.20 73.59,37.23 73.75,37.27 73.92,37.30" fill="none" stroke="#000" stroke-width="2.52" stroke-linecap="round"/>
<polyline points="73.92,37.30 74.08,37.34 74.24,37.37 74.40,37.41 74.56,37.46" fill="none" stroke="#000" stroke-width="2.52" stroke-linecap="round"/>
<polyline points="74.56,37.46 74.72,37.50 74.89,37.55 75.05,37.60 75.21,37.66" fill="none" stroke="#000" stroke-width="2.50" stroke-linecap="round"/>
<polyline points="75.21,37.66 75.37,37.71 75.53,37.77 75.70,37.83 75.86,37.89" fill="none" stroke="#000" stroke-width="2.50" stroke-linecap="round"/>
<polyline points="75.86,37.89 76.02,37.95 76.18,38.02 76.34,38.08 76.50,38.15" fill="none" stroke="#000" stroke-width="2.48" stroke-linecap="round"/>
<polyline points="76.50,38.15 76.67,38.22 76.83,38.29 76.99,38.37 77.15,38.44" fill="none" stroke="#000" stroke-width="2.48" stroke-linecap="round"/>
<polyline points="77.15,38.44 77.31,38.52 77.48,38.60 77.64,38.67 77.80,38.75" fill="none" stroke="#000" stroke-width="2.46" stroke-linecap="round"/>
<polyline points="77.80,38.75 77.96,38.84 78.12,38.92 78.28,39.00 78.45,39.09" fill="none" stroke="#000" stroke-width="2.46" stroke-linecap="round"/>
<polyline points="78.45,39.09 78.61,39.17 78.77,39.26 78.93,39.35 79.09,39.45" fill="none" stroke="#000" stroke-width="2.44" stroke-linecap="round"/>
<polyline points="79.09,39.45 79.25,39.55 79.42,39.65 79.58,39.76 79.74,39.86" fill="none" stroke="#000" stroke-width="2.44" stroke-linecap="round"/>
<polyline points="79.74,39.86 79.90,39.98 80.06,40.09 80.23,40.21 80.39,40.33" fill="none" stroke="#000" stroke-width="2.42" stroke-linecap="round"/>
<polyline points="80.39,40.33 80.55,40.45 80.71,40.58 80.87,40.71 81.03,40.85" fill="none" stroke="#000" stroke-width="2.42" stroke-linecap="round"/>
<polyline points="81.03,40.85 81.20,40.98 81.36,41.12 81.52,41.26 81.68,41.41" fill="none" stroke="#000" stroke-width="2.40" stroke-linecap="round"/>
<polyline points="81.68,41.41 81.84,41.56 82.01,41.71 82.17,41.87 82.33,42.03" fill="none" stroke="#000" stroke-width="2.40" stroke-linecap="round"/>
<polyline points="82.33,42.03 82.49,42.19 82.65,42.36 82.81,42.53 82.98,42.72" fill="none" stroke="#000" stroke-width="2.38" stroke-linecap="round"/>
<polyline points="82.98,42.72 83.14,42.91 83.30,43.10 83.46,43.31 83.62,43.52" fill="none" stroke="#000" stroke-width="2.38" stroke-linecap="round"/>
<polyline points="83.62,43.52 83.79,43.74 83.95,43.96 84.11,44.20 84.27,44.44" fill="none" stroke="#000" stroke-width="2.36" stroke-linecap="round"/>
<polyline points="84.27,44.44 84.43,44.69 84.59,44.94 84.76,45.21 84.92,45.48" fill="none" stroke="#000" stroke-width="2.35" stroke-linecap="round"/>
<polyline points="84.92,45.48 85.08,45.76 85.24,46.05 85.40,46.36 85.57,46.69" fill="none" stroke="#000" stroke-width="2.35" stroke-linecap="round"/>
<polyline points="85.57,46.69 85.73,47.03 85.89,47.38 86.05,47.75 86.21,48.14" fill="none" stroke="#000" stroke-width="2.33" stroke-linecap="round"/>
<polyline points="86.21,48.14 86.37,48.53 86.54,48.93 86.70,49.35 86.86,49.77" fill="none" stroke="#000" stroke-width="2.33" stroke-linecap="round"/>
<polyline points="86.86,49.77 87.02,50.21 87.18,50.65 87.34,51.10 87.51,51.55" fill="none" stroke="#000" stroke-width="2.31" stroke-linecap="round"/>
<polyline points="87.51,51.55 87.67,52.01 87.83,52.48 87.99,52.95 88.15,53.42" fill="none" stroke="#000" stroke-width="2.31" stroke-linecap="round"/>
<polyline points="88.15,53.42 88.32,53.90 88.48,54.38 88.64,54.85 88.80,55.33" fill="none" stroke="#000" stroke-width="2.29" stroke-linecap="round"/>
<polyline points="88.80,55.33 88.96,55.81 89.12,56.29 89.29,56.78 89.45,57.28" fill="none" stroke="#000" stroke-width="2.29" stroke-linecap="round"/>
<polyline points="89.45,57.28 89.61,57.80 89.77,58.32 89.93,58.86 90.10,59.40" fill="none" stroke="#000" stroke-width="2.27" stroke-linecap="round"/>
<polyline points="90.10,59.40 90.26,59.95 90.42,60.51 90.58,61.07 90.74,61.64" fill="none" stroke="#000" stroke-width="2.27" stroke-linecap="round"/>
<polyline points="90.74,61.64 90.90,62.20 91.07,62.77 91.23,63.33 91.39,63.89" fill="none" stroke="#000" stroke-width="2.25" stroke-linecap="round"/>
<polyline points="91.39,63.89 91.55,64.44 91.71,64.99 91.88,65.54 92.04,66.07" fill="none" stroke="#000" stroke-width="2.25" stroke-linecap="round"/>
<polyline points="92.04,66.07 92.20,66.59 92.36,67.10 92.52,67.61 92.68,68.10" fill="none" stroke="#000" stroke-width="2.24" stroke-linecap="round"/>
<polyline points="92.68,68.10 92.85,68.58 93.01,69.06 93.17,69.53 93.33,70.00" fill="none" stroke="#000" stroke-width="2.23" stroke-linecap="round"/>
<polyline points="93.33,70.00 93.49,70.46 93.66,70.93 93.82,71.39 93.98,71.85" fill="none" stroke="#000" stroke-width="2.22" stroke-linecap="round"/>
<polyline points="93.98,71.85 94.14,72.32 94.30,72.78 94.46,73.25 94.63,73.73" fill="none" stroke="#000" stroke-width="2.21" stroke-linecap="round"/>
<polyline points="94.63,73.73 94.79,74.21 94.95,74.71 95.11,75.21 95.27,75.72" fill="none" stroke="#000" stroke-width="2.16" stroke-linecap="round"/>
<polyline points="95.27,75.72 95.44,76.24 95.60,76.77 95.76,77.32 95.92,77.88" fill="none" stroke="#000" stroke-width="2.07" stroke-linecap="round"/>
<polyline points="95.92,77.88 96.08,78.46 96.24,79.05 96.41,79.66 96.57,80.30" fill="none" stroke="#000" stroke-width="1.98" stroke-linecap="round"/>
<polyline points="96.57,80.30 96.73,80.95 96.89,81.65 97.05,82.43 97.21,83.28" fill="none" stroke="#000" stroke-width="1.89" stroke-linecap="round"/>
<polyline points="97.21,83.28 97.38,84.19 97.54,85.15 97.70,86.14 97.86,87.16" fill="none" stroke="#000" stroke-width="1.81" stroke-linecap="round"/>
<polyline points="97.86,87.16 98.02,88.19 98.19,89.23 98.35,90.25 98.51,91.25" fill="none" stroke="#000" stroke-width="1.72" stroke-linecap="round"/>
<polyline points="98.51,91.25 98.67,92.21 98.83,93.13 98.99,93.99 99.16,94.78" fill="none" stroke="#000" stroke-width="1.63" stroke-linecap="round"/>
<polyline points="99.16,94.78 99.32,95.49 99.48,96.10 99.64,96.65 99.80,97.16" fill="none" stroke="#000" stroke-width="1.54" stroke-linecap="round"/>
<polyline points="99.80,97.16 99.97,97.65 100.13,98.12 100.29,98.56 100.45,98.98" fill="none" stroke="#000" stroke-width="1.50" stroke-linecap="round"/>
<polyline points="100.45,98.98 100.61,99.39 100.77,99.78 100.94,100.16 101.10,100.53" fill="none" stroke="#000" stroke-width="1.49" stroke-linecap="round"/>
<polyline points="101.10,100.53 101.26,100.89 101.42,101.25 101.58,101.60 101.75,101.96" fill="none" stroke="#000" stroke-width="1.49" stroke-linecap="round"/>
<polyline points="101.75,101.96 101.91,102.32 102.07,102.69 102.23,103.06 102.39,103.45" fill="none" stroke="#000" stroke-width="1.49" stroke-linecap="round"/>
<polyline points="102.39,103.45 102.55,103.84 102.72,104.24 102.88,104.64 103.04,105.04" fill="none" stroke="#000" stroke-width="1.48" stroke-linecap="round"/>
<polyline points="103.04,105.04 103.20,105.44 103.36,105.83 103.53,106.23 103.69,106.62" fill="none" stroke="#000" stroke-width="1.48" stroke-linecap="round"/>
<polyline points="103.69,106.62 103.85,107.01 104.01,107.40 104.17,107.78 104.33,108.16" fill="none" stroke="#000" stroke-width="1.48" stroke-linecap="round"/>
<polyline points="104.33,108.16 104.50,108.53 104.66,108.89 104.82,109.25 104.98,109.60" fill="none" stroke="#000" stroke-width="1.47" stroke-linecap="round"/>
<polyline points="104.98,109.60 105.14,109.94 105.30,110.28 105.47,110.60 105.63,110.93" fill="none" stroke="#000" stroke-width="1.47" stroke-linecap="round"/>
<polyline points="105.63,110.93 105.79,111.25 105.95,111.57 106.11,111.89 106.28,112.20" fill="none" stroke="#000" stroke-width="1.46" stroke-linecap="round"/>
<polyline points="106.28,112.20 106.44,112.52 106.60,112.83 106.76,113.13 106.92,113.44" fill="none" stroke="#000" stroke-width="1.46" stroke-linecap="round"/>
<polyline points="106.92,113.44 107.08,113.74 107.25,114.03 107.41,114.32 107.57,114.61" fill="none" stroke="#000" stroke-width="1.46" stroke-linecap="round"/>
<polyline points="107.57,114.61 107.73,114.89 107.89,115.17 108.06,115.44 108.22,115.71" fill="none" stroke="#000" stroke-width="1.45" stroke-linecap="round"/>
<polyline points="108.22,115.71 108.38,115.97 108.54,116.23 108.70,116.48 108.86,116.72" fill="none" stroke="#000" stroke-width="1.45" stroke-linecap="round"/>
<polyline points="108.86,116.72 109.03,116.96 109.19,117.19 109.35,117.41 109.51,117.63" fill="none" stroke="#000" stroke-width="1.44" stroke-linecap="round"/>
<polyline points="109.51,117.63 109.67,117.83 109.84,118.04 110.00,118.24 110.16,118.43" fill="none" stroke="#000" stroke-width="1.44" stroke-linecap="round"/>
<polyline points="110.16,118.43 110.32,118.62 110.48,118.80 110.64,118.99 110.81,119.16" fill="none" stroke="#000" stroke-width="1.44" stroke-linecap="round"/>
<polyline points="110.81,119.16 110.97,119.34 111.13,119.51 111.29,119.67 111.45,119.84" fill="none" stroke="#000" stroke-width="1.43" stroke-linecap="round"/>
<polyline points="111.45,119.84 111.62,120.00 111.78,120.16 111.94,120.32 112.10,120.48" fill="none" stroke="#000" stroke-width="1.43" stroke-linecap="round"/>
<polyline points="112.10,120.48 112.26,120.63 112.42,120.79 112.59,120.94 112.75,121.10" fill="none" stroke="#000" stroke-width="1.43" stroke-linecap="round"/>
<polyline points="112.75,121.10 112.91,121.25 113.07,121.41 113.23,121.56 113.39,121.72" fill="none" stroke="#000" stroke-width="1.42" stroke-linecap="round"/>
<polyline points="113.39,121.72 113.56,121.87 113.72,122.03 113.88,122.19 114.04,122.35" fill="none" stroke="#000" stroke-width="1.42" stroke-linecap="round"/>
<polyline points="114.04,122.35 114.20,122.52 114.37,122.69 114.53,122.87 114.69,123.05" fill="none" stroke="#000" stroke-width="1.41" stroke-linecap="round"/>
<polyline points="114.69,123.05 114.85,123.22 115.01,123.40 115.17,123.57 115.34,123.73" fill="none" stroke="#000" stroke-width="1.41" stroke-linecap="round"/>
<polyline points="115.34,123.73 115.50,123.88 115.66,124.02 115.82,124.14 115.98,124.24" fill="none" stroke="#000" stroke-width="1.41" stroke-linecap="round"/>
<polyline points="115.98,124.24 116.15,124.33 116.31,124.42 116.47,124.50 116.63,124.58" fill="none" stroke="#000" stroke-width="1.40" stroke-linecap="round"/>
<polyline points="116.63,124.58 116.79,124.65 116.95,124.72 117.12,124.79 117.28,124.86" fill="none" stroke="#000" stroke-width="1.40" stroke-linecap="round"/>
<polyline points="117.28,124.86 117.44,124.92 117.60,124.98 117.76,125.04 117.93,125.10" fill="none" stroke="#000" stroke-width="1.39" stroke-linecap="round"/>
<polyline points="117.93,125.10 118.09,125.15 118.25,125.21 118.41,125.26 118.57,125.31" fill="none" stroke="#000" stroke-width="1.39" stroke-linecap="round"/>
<polyline points="118.57,125.31 118.73,125.36 118.90,125.41 119.06,125.46 119.22,125.51" fill="none" stroke="#000" stroke-width="1.39" stroke-linecap="round"/>
<polyline points="119.22,125.51 119.38,125.56 119.54,125.61 119.71,125.66 119.87,125.71" fill="none" stroke="#000" stroke-width="1.38" stroke-linecap="round"/>
<polyline points="119.87,125.71 120.03,125.76 120.19,125.81 120.35,125.86 120.51,125.92" fill="none" stroke="#000" stroke-width="1.38" stroke-linecap="round"/>
<polyline points="120.51,125.92 120.68,125.97 120.84,126.02 121.00,126.07 121.16,126.12" fill="none" stroke="#000" stroke-width="1.38" stroke-linecap="round"/>
<polyline points="121.16,126.12 121.32,126.17 121.48,126.22 121.65,126.27 121.81,126.32" fill="none" stroke="#000" stroke-width="1.37" stroke-linecap="round"/>
<polyline points="121.81,126.32 121.97,126.37 122.13,126.42 122.29,126.47 122.46,126.52" fill="none" stroke="#000" stroke-width="1.37" stroke-linecap="round"/>
<polyline points="122.46,126.52 122.62,126.57 122.78,126.61 122.94,126.66 123.10,126.71" fill="none" stroke="#000" stroke-width="1.36" stroke-linecap="round"/>
<polyline points="123.10,126.71 123.26,126.75 123.43,126.80 123.59,126.85 123.75,126.89" fill="none" stroke="#000" stroke-width="1.36" stroke-linecap="round"/>
<polyline points="123.75,126.89 123.91,126.93 124.07,126.98 124.24,127.02 124.40,127.06" fill="none" stroke="#000" stroke-width="1.36" stroke-linecap="round"/>
<polyline points="124.40,127.06 124.56,127.10 124.72,127.14 124.88,127.18 125.04,127.22" fill="none" stroke="#000" stroke-width="1.35" stroke-linecap="round"/>
<polyline points="125.04,127.22 125.21,127.26 125.37,127.29 125.53,127.33 125.69,127.36" fill="none" stroke="#000" stroke-width="1.35" stroke-linecap="round"/>
<polyline points="125.69,127.36 125.85,127.40 126.02,127.43 126.18,127.46 126.34,127.49" fill="none" stroke="#000" stroke-width="1.34" stroke-linecap="round"/>
<polyline points="126.34,127.49 126.50,127.52 126.66,127.55 126.82,127.57 126.99,127.60" fill="none" stroke="#000" stroke-width="1.34" stroke-linecap="round"/>
<polyline points="126.99,127.60 127.15,127.62 127.31,127.65 127.47,127.67 127.63,127.70" fill="none" stroke="#000" stroke-width="1.34" stroke-linecap="round"/>
<polyline points="127.63,127.70 127.79,127.72 127.96,127.74 128.12,127.76 128.28,127.79" fill="none" stroke="#000" stroke-width="1.33" stroke-linecap="round"/>
<polyline points="128.28,127.79 128.44,127.81 128.60,127.83 128.77,127.85 128.93,127.87" fill="none" stroke="#000" stroke-width="1.33" stroke-linecap="round"/>
<polyline points="128.93,127.87 129.09,127.89 129.25,127.91 129.41,127.93 129.57,127.95" fill="none" stroke="#000" stroke-width="1.32" stroke-linecap="round"/>
<polyline points="129.57,127.95 129.74,127.97 129.90,127.99 130.06,128.01 130.22,128.02" fill="none" stroke="#000" stroke-width="1.32" stroke-linecap="round"/>
<polyline points="130.22,128.02 130.38,128.04 130.55,128.06 130.71,128.08 130.87,128.09" fill="none" stroke="#000" stroke-width="1.32" stroke-linecap="round"/>
<polyline points="130.87,128.09 131.03,128.11 131.19,128.13 131.35,128.14 131.52,128.16" fill="none" stroke="#000" stroke-width="1.31" stroke-linecap="round"/>
<polyline points="131.52,128.16 131.68,128.17 131.84,128.19 132.00,128.20 132.16,128.22" fill="none" stroke="#000" stroke-width="1.31" stroke-linecap="round"/>
<polyline points="132.16,128.22 132.33,128.23 132.49,128.25 132.65,128.26 132.81,128.28" fill="none" stroke="#000" stroke-width="1.31" stroke-linecap="round"/>
<polyline points="132.81,128.28 132.97,128.29 133.13,128.31 133.30,128.32 133.46,128.33" fill="none" stroke="#000" stroke-width="1.30" stroke-linecap="round"/>
<polyline points="133.46,128.33 133.62,128.35 133.78,128.36 133.94,128.37 134.11,128.39" fill="none" stroke="#000" stroke-width="1.30" stroke-linecap="round"/>
<polyline points="134.11,128.39 134.27,128.40 134.43,128.41 134.59,128.43 134.75,128.44" fill="none" stroke="#000" stroke-width="1.30" stroke-linecap="round"/>
<polyline points="134.75,128.44 134.91,128.45 135.08,128.47 135.24,128.48 135.40,128.49" fill="none" stroke="#000" stroke-width="1.30" stroke-linecap="round"/>
<polyline points="135.40,128.49 135.56,128.50 135.72,128.52 135.88,128.53 136.05,128.54" fill="none" stroke="#000" stroke-width="1.30" stroke-linecap="round"/>
<polyline points="136.05,128.54 136.21,128.56 136.37,128.57 136.53,128.58 136.69,128.60" fill="none" stroke="#000" stroke-width="1.30" stroke-linecap="round"/>
<polyline points="136.69,128.60 136.86,128.61 137.02,128.62 137.18,128.63 137.34,128.65" fill="none" stroke="#000" stroke-width="1.30" stroke-linecap="round"/>
<polyline points="137.34,128.65 137.50,128.66 137.66,128.67 137.83,128.68 137.99,128.69" fill="none" stroke="#000" stroke-width="1.30" stroke-linecap="round"/>
<polyline points="137.99,128.69 138.15,128.71 138.31,128.72 138.47,128.73 138.64,128.74" fill="none" stroke="#000" stroke-width="1.30" stroke-linecap="round"/>
<polyline points="138.64,128.74 138.80,128.75 138.96,128.76 139.12,128.78 139.28,128.79" fill="none" stroke="#000" stroke-width="1.30" stroke-linecap="round"/>
<polyline points="139.28,128.79 139.44,128.80 139.61,128.81 139.77,128.82 139.93,128.83" fill="none" stroke="#000" stroke-width="1.30" stroke-linecap="round"/>
<polyline points="139.93,128.83 140.09,128.84 140.25,128.85 140.42,128.86 140.58,128.86" fill="none" stroke="#000" stroke-width="1.30" stroke-linecap="round"/>
<polyline points="140.58,128.86 140.74,128.87 140.90,128.88 141.06,128.89 141.22,128.90" fill="none" stroke="#000" stroke-width="1.30" stroke-linecap="round"/>
<polyline points="141.22,128.90 141.39,128.91 141.55,128.91 141.71,128.92 141.87,128.93" fill="none" stroke="#000" stroke-width="1.30" stroke-linecap="round"/>
<polyline points="141.87,128.93 142.03,128.93 142.20,128.94 142.36,128.94 142.52,128.95" fill="none" stroke="#000" stroke-width="1.30" stroke-linecap="round"/>
<polyline points="142.52,128.95 142.68,128.95 142.84,128.96 143.00,128.96 143.17,128.97" fill="none" stroke="#000" stroke-width="1.30" stroke-linecap="round"/>
<polyline points="143.17,128.97 143.33,128.97 143.49,128.97 143.65,128.97 143.81,128.98" fill="none" stroke="#000" stroke-width="1.30" stroke-linecap="round"/>
<polyline points="143.81,128.98 143.97,128.98 144.14,128.98 144.30,128.99 144.46,128.99" fill="none" stroke="#000" stroke-width="1.30" stroke-linecap="round"/>
<polyline points="144.46,128.99 144.62,128.99 144.78,129.00 144.95,129.00 145.11,129.00" fill="none" stroke="#000" stroke-width="1.30" stroke-linecap="round"/>
<polyline points="145.11,129.00 145.27,129.01 145.43,129.01 145.59,129.01 145.75,129.01" fill="none" stroke="#000" stroke-width="1.30" stroke-linecap="round"/>
<polyline points="145.75,129.01 145.92,129.02 146.08,129.02 146.24,129.02 146.40,129.03" fill="none" stroke="#000" stroke-width="1.30" stroke-linecap="round"/>
<polyline points="146.40,129.03 146.56,129.03 146.73,129.03 146.89,129.03 147.05,129.03" fill="none" stroke="#000" stroke-width="1.30" stroke-linecap="round"/>
<polyline points="147.05,129.03 147.21,129.04 147.37,129.04 147.53,129.04 147.70,129.04" fill="none" stroke="#000" stroke-width="1.30" stroke-linecap="round"/>
<polyline points="147.70,129.04 147.86,129.05 148.02,129.05 148.18,129.05 148.34,129.05" fill="none" stroke="#000" stroke-width="1.30" stroke-linecap="round"/>
<polyline points="148.34,129.05 148.51,129.05 148.67,129.05 148.83,129.06 148.99,129.06" fill="none" stroke="#000" stroke-width="1.30" stroke-linecap="round"/>
<polyline points="148.99,129.06 149.15,129.06 149.31,129.06 149.48,129.06 149.64,129.06" fill="none" stroke="#000" stroke-width="1.30" stroke-linecap="round"/>
<polyline points="149.64,129.06 149.80,129.06 149.96,129.07 150.12,129.07 150.29,129.07" fill="none" stroke="#000" stroke-width="1.30" stroke-linecap="round"/>
<polyline points="150.29,129.07 150.45,129.07 150.61,129.07 150.77,129.07 150.93,129.07" fill="none" stroke="#000" stroke-width="1.30" stroke-linecap="round"/>
<polyline points="150.93,129.07 151.09,129.07 151.26,129.07 151.42,129.07 151.58,129.07" fill="none" stroke="#000" stroke-width="1.30" stroke-linecap="round"/>
<polyline points="151.58,129.07 151.74,129.07 151.90,129.07 152.06,129.07 152.23,129.07" fill="none" stroke="#000" stroke-width="1.30" stroke-linecap="round"/>
<polyline points="152.23,129.07 152.39,129.07 152.55,129.07 152.71,129.07 152.87,129.07" fill="none" stroke="#000" stroke-width="1.30" stroke-linecap="round"/>
<polyline points="152.87,129.07 153.04,129.07 153.20,129.07 153.36,129.07 153.52,129.07" fill="none" stroke="#000" stroke-width="1.30" stroke-linecap="round"/>
<polyline points="153.52,129.07 153.68,129.07 153.84,129.07 154.01,129.07 154.17,129.07" fill="none" stroke="#000" stroke-width="1.30" stroke-linecap="round"/>
<polyline points="154.17,129.07 154.33,129.07 154.49,129.07 154.65,129.07 154.82,129.07" fill="none" stroke="#000" stroke-width="1.30" stroke-linecap="round"/>
<polyline points="154.82,129.07 154.98,129.07 155.14,129.07 155.30,129.07 155.46,129.07" fill="none" stroke="#000" stroke-width="1.30" stroke-linecap="round"/>
<polyline points="155.46,129.07 155.62,129.07 155.79,129.07 155.95,129.07 156.11,129.07" fill="none" stroke="#000" stroke-width="1.30" stroke-linecap="round"/>
<polyline points="156.11,129.07 156.27,129.07 156.43,129.07 156.60,129.07 156.76,129.07" fill="none" stroke="#000" stroke-width="1.30" stroke-linecap="round"/>
<polyline points="156.76,129.07 156.92,129.07 157.08,129.07 157.24,129.07 157.40,129.07" fill="none" stroke="#000" stroke-width="1.30" stroke-linecap="round"/>
<polyline points="157.40,129.07 157.57,129.07 157.73,129.07 157.89,129.07 158.05,129.07" fill="none" stroke="#000" stroke-width="1.30" stroke-linecap="round"/>
<polyline points="158.05,129.07 158.21,129.07 158.38,129.07 158.54,129.07 158.70,129.07" fill="none" stroke="#000" stroke-width="1.30" stroke-linecap="round"/>
<polyline points="158.70,129.07 158.86,129.07 159.02,129.07 159.18,129.07 159.35,129.07" fill="none" stroke="#000" stroke-width="1.30" stroke-linecap="round"/>
<path d="M43.30 123.82V129.28M44.18 105.77V111.23M45.05 96.00V101.46M45.92 88.41V93.87M46.80 81.31V86.78M47.67 74.69V80.18M48.55 68.34V73.86M49.42 62.50V68.03M50.29 57.59V63.14M51.17 53.29V58.86M52.04 49.80V55.39M52.91 46.93V52.54M53.79 44.51V50.14M54.66 42.55V48.19M55.54 40.91V46.58M56.41 39.51V45.24M57.28 38.37V44.18M58.16 37.36V43.26M59.03 36.49V42.47M59.90 35.78V41.85M60.78 35.24V41.40M61.65 34.78V41.03M62.52 34.40V40.70M63.40 34.12V40.42M64.27 33.93V40.23M65.15 33.78V40.08M66.02 33.64V39.94M66.89 33.53V39.83M67.77 33.45V39.75M68.64 33.42V39.72M69.51 33.44V39.74M70.39 33.52V39.82M71.26 33.64V39.94M72.14 33.79V40.09M73.01 33.96V40.26M73.88 34.14V40.44M74.76 34.36V40.66M75.63 34.68V40.93M76.50 35.09V41.22M77.38 35.54V41.56M78.25 36.03V41.94M79.13 36.57V42.36M80.00 37.20V42.88M80.87 37.93V43.49M81.75 38.74V44.20M82.62 39.62V45.02M83.49 40.68V46.02M84.37 41.94V47.23M85.24 43.44V48.67M86.12 45.32V50.49M86.99 47.56V52.68M87.86 50.04V55.10M88.74 52.64V57.64M89.61 55.32V60.27M90.48 58.29V63.18M91.36 61.36V66.19M92.23 64.31V69.08M93.11 66.98V71.70M93.98 69.52V74.18" stroke="#000" stroke-width="0.6" fill="none"/>
<path d="M95.27 73.83V82.04M97.21 81.39V89.80M99.16 90.15V104.42M101.10 92.24V113.64M103.04 96.68V118.72M104.98 100.80V122.20M106.92 103.33V124.89M108.86 106.10V127.25M110.81 108.96V129.26M112.75 111.47V130.91M114.69 113.52V132.44M116.63 115.17V132.98M118.57 116.65V133.04M120.51 118.13V133.06M122.46 119.71V133.05M124.40 121.22V133.02M126.34 122.52V132.98M128.28 123.52V132.92M130.22 124.38V132.85M132.16 125.12V132.72M133.46 125.55V132.58M134.43 125.83V132.47M135.40 126.09V132.33M136.37 126.36V132.14M137.34 126.63V131.90M138.31 126.83V131.64M139.28 126.90V131.38M140.25 126.96V131.13M141.22 127.01V130.94M142.20 127.05V130.83M143.17 127.08V130.86M144.14 127.09V130.87M145.11 127.11V130.89M146.08 127.13V130.91M147.05 127.14V130.98M148.02 127.16V131.08M148.99 127.17V131.19M149.96 127.13V131.31M150.93 127.03V131.42M151.90 126.94V131.52M152.87 126.83V131.62M153.84 126.71V131.74M154.82 126.57V131.86M155.79 126.44V131.98M156.76 126.29V132.10M157.73 126.15V132.23M158.70 126.01V132.35" stroke="#1a1a1a" stroke-width="0.9" fill="none"/>
<path d="M41.40 123.82H45.20M41.40 129.28H45.20M42.28 105.77H46.08M42.28 111.23H46.08M43.15 96.00H46.95M43.15 101.46H46.95M44.02 88.41H47.82M44.02 93.87H47.82M44.90 81.31H48.70M44.90 86.78H48.70M45.77 74.69H49.57M45.77 80.18H49.57M46.65 68.34H50.45M46.65 73.86H50.45M47.52 62.50H51.32M47.52 68.03H51.32M48.39 57.59H52.19M48.39 63.14H52.19M49.27 53.29H53.07M49.27 58.86H53.07M50.14 49.80H53.94M50.14 55.39H53.94M51.01 46.93H54.81M51.01 52.54H54.81M51.89 44.51H55.69M51.89 50.14H55.69M52.76 42.55H56.56M52.76 48.19H56.56M53.64 40.91H57.44M53.64 46.58H57.44M54.51 39.51H58.31M54.51 45.24H58.31M55.38 38.37H59.18M55.38 44.18H59.18M56.26 37.36H60.06M56.26 43.26H60.06M57.13 36.49H60.93M57.13 42.47H60.93M58.00 35.78H61.80M58.00 41.85H61.80M58.88 35.24H62.68M58.88 41.40H62.68M59.75 34.78H63.55M59.75 41.03H63.55M60.62 34.40H64.42M60.62 40.70H64.42M61.50 34.12H65.30M61.50 40.42H65.30M62.37 33.93H66.17M62.37 40.23H66.17M63.25 33.78H67.05M63.25 40.08H67.05M64.12 33.64H67.92M64.12 39.94H67.92M64.99 33.53H68.79M64.99 39.83H68.79M65.87 33.45H69.67M65.87 39.75H69.67M66.74 33.42H70.54M66.74 39.72H70.54M67.61 33.44H71.41M67.61 39.74H71.41M68.49 33.52H72.29M68.49 39.82H72.29M69.36 33.64H73.16M69.36 39.94H73.16M70.24 33.79H74.04M70.24 40.09H74.04M71.11 33.96H74.91M71.11 40.26H74.91M71.98 34.14H75.78M71.98 40.44H75.78M72.86 34.36H76.66M72.86 40.66H76.66M73.73 34.68H77.53M73.73 40.93H77.53M74.60 35.09H78.40M74.60 41.22H78.40M75.48 35.54H79.28M75.48 41.56H79.28M76.35 36.03H80.15M76.35 41.94H80.15M77.23 36.57H81.03M77.23 42.36H81.03M78.10 37.20H81.90M78.10 42.88H81.90M78.97 37.93H82.77M78.97 43.49H82.77M79.85 38.74H83.65M79.85 44.20H83.65M80.72 39.62H84.52M80.72 45.02H84.52M81.59 40.68H85.39M81.59 46.02H85.39M82.47 41.94H86.27M82.47 47.23H86.27M83.34 43.44H87.14M83.34 48.67H87.14M84.22 45.32H88.02M84.22 50.49H88.02M85.09 47.56H88.89M85.09 52.68H88.89M85.96 50.04H89.76M85.96 55.10H89.76M86.84 52.64H90.64M86.84 57.64H90.64M87.71 55.32H91.51M87.71 60.27H91.51M88.58 58.29H92.38M88.58 63.18H92.38M89.46 61.36H93.26M89.46 66.19H93.26M90.33 64.31H94.13M90.33 69.08H94.13M91.21 66.98H95.01M91.21 71.70H95.01M92.08 69.52H95.88M92.08 74.18H95.88M92.95 72.52H96.75M92.95 80.68H96.75M93.83 75.32H97.63M93.83 83.58H97.63M94.70 78.54H98.50M94.70 86.95H98.50M95.57 82.87H99.37M95.57 91.29H99.37M96.85 87.49H99.85M96.85 98.09H99.85M97.72 90.32H100.72M97.72 104.84H100.72M98.59 91.60H101.59M98.59 109.39H101.59M99.47 92.11H102.47M99.47 113.16H102.47M100.34 93.54H103.34M100.34 115.97H103.34M101.22 95.78H104.22M101.22 118.03H104.22M102.09 98.16H105.09M102.09 119.82H105.09M102.96 99.99H105.96M102.96 121.37H105.96M103.84 101.31H106.84M103.84 122.74H106.84M104.71 102.44H107.71M104.71 123.96H107.71M105.58 103.53H108.58M105.58 125.10H108.58M106.46 104.71H109.46M106.46 126.18H109.46M107.33 106.05H110.33M107.33 127.21H110.33M108.21 107.41H111.21M108.21 128.17H111.21M109.08 108.65H112.08M109.08 129.04H112.08M109.95 109.83H112.95M109.95 129.85H112.95M110.83 110.96H113.83M110.83 130.58H113.83M111.70 112.00H114.70M111.70 131.27H114.70M112.57 112.93H115.57M112.57 131.99H115.57M113.45 113.76H116.45M113.45 132.61H116.45M114.32 114.52H117.32M114.32 132.94H117.32M115.20 115.22H118.20M115.20 132.99H118.20M116.07 115.89H119.07M116.07 133.02H119.07M116.94 116.55H119.94M116.94 133.04H119.94M117.82 117.20H120.82M117.82 133.05H120.82M118.69 117.88H121.69M118.69 133.06H121.69M119.56 118.58H122.56M119.56 133.06H122.56M120.44 119.29H123.44M120.44 133.05H123.44M121.31 119.99H124.31M121.31 133.05H124.31M122.19 120.68H125.19M122.19 133.03H125.19M123.06 121.34H126.06M123.06 133.02H126.06M123.93 121.95H126.93M123.93 133.00H126.93M124.81 122.50H127.81M124.81 132.98H127.81M125.68 122.97H128.68M125.68 132.95H128.68M126.55 123.41H129.55M126.55 132.93H129.55M127.43 123.82H130.43M127.43 132.90H130.43M128.30 124.20H131.30M128.30 132.87H131.30M129.18 124.56H132.18M129.18 132.83H132.18M130.05 124.90H133.05M130.05 132.77H133.05M130.92 125.21H133.92M130.92 132.69H133.92M131.80 125.50H134.80M131.80 132.60H134.80M132.67 125.76H135.67M132.67 132.50H135.67M133.54 126.00H136.54M133.54 132.39H136.54M134.42 126.24H137.42M134.42 132.24H137.42M135.29 126.48H138.29M135.29 132.04H138.29M136.16 126.72H139.16M136.16 131.81H139.16M137.04 126.84H140.04M137.04 131.58H140.04M137.91 126.90H140.91M137.91 131.34H140.91M138.79 126.96H141.79M138.79 131.13H141.79M139.66 127.00H142.66M139.66 130.95H142.66M140.53 127.04H143.53M140.53 130.82H143.53M141.41 127.07H144.41M141.41 130.85H144.41M142.28 127.09H145.28M142.28 130.87H145.28M143.15 127.10H146.15M143.15 130.88H146.15M144.03 127.12H147.03M144.03 130.90H147.03M144.90 127.14H147.90M144.90 130.92H147.90M145.78 127.15H148.78M145.78 131.00H148.78M146.65 127.16H149.65M146.65 131.10H149.65M147.52 127.17H150.52M147.52 131.20H150.52M148.40 127.14H151.40M148.40 131.30H151.40M149.27 127.05H152.27M149.27 131.40H152.27M150.14 126.96H153.14M150.14 131.49H153.14M151.02 126.87H154.02M151.02 131.58H154.02M151.89 126.77H154.89M151.89 131.68H154.89M152.77 126.65H155.77M152.77 131.79H155.77M153.64 126.53H156.64M153.64 131.90H156.64M154.51 126.40H157.51M154.51 132.01H157.51M155.39 126.27H158.39M155.39 132.12H158.39M156.26 126.14H159.26M156.26 132.23H159.26M157.13 126.02H160.13M157.13 132.34H160.13" stroke="#000" stroke-width="0.7" fill="none"/>
<path d="M205.80 22.50V142.20H325.00" fill="none" stroke="#000" stroke-width="1.5"/>
<line x1="202.60" y1="142.20" x2="205.80" y2="142.20" stroke="#000" stroke-width="1.1"/>
<text transform="translate(199.30,145.10) scale(1,1.12)" text-anchor="end" font-size="7.8">0.00</text>
<line x1="202.60" y1="118.92" x2="205.80" y2="118.92" stroke="#000" stroke-width="1.1"/>
<text transform="translate(199.30,121.82) scale(1,1.12)" text-anchor="end" font-size="7.8">0.25</text>
<line x1="202.60" y1="95.65" x2="205.80" y2="95.65" stroke="#000" stroke-width="1.1"/>
<text transform="translate(199.30,98.55) scale(1,1.12)" text-anchor="end" font-size="7.8">0.50</text>
<line x1="202.60" y1="72.38" x2="205.80" y2="72.38" stroke="#000" stroke-width="1.1"/>
<text transform="translate(199.30,75.28) scale(1,1.12)" text-anchor="end" font-size="7.8">0.75</text>
<line x1="202.60" y1="49.10" x2="205.80" y2="49.10" stroke="#000" stroke-width="1.1"/>
<text transform="translate(199.30,52.00) scale(1,1.12)" text-anchor="end" font-size="7.8">1.00</text>
<line x1="202.60" y1="25.82" x2="205.80" y2="25.82" stroke="#000" stroke-width="1.1"/>
<text transform="translate(199.30,28.72) scale(1,1.12)" text-anchor="end" font-size="7.8">1.25</text>
<line x1="205.80" y1="142.20" x2="205.80" y2="145.40" stroke="#000" stroke-width="1.1"/>
<text transform="translate(205.80,155.10) scale(1,1.12)" text-anchor="middle" font-size="7.8">0</text>
<line x1="234.98" y1="142.20" x2="234.98" y2="145.40" stroke="#000" stroke-width="1.1"/>
<text transform="translate(234.98,155.10) scale(1,1.12)" text-anchor="middle" font-size="7.8">50</text>
<line x1="264.15" y1="142.20" x2="264.15" y2="145.40" stroke="#000" stroke-width="1.1"/>
<text transform="translate(264.15,155.10) scale(1,1.12)" text-anchor="middle" font-size="7.8">100</text>
<line x1="293.33" y1="142.20" x2="293.33" y2="145.40" stroke="#000" stroke-width="1.1"/>
<text transform="translate(293.33,155.10) scale(1,1.12)" text-anchor="middle" font-size="7.8">150</text>
<line x1="322.50" y1="142.20" x2="322.50" y2="145.40" stroke="#000" stroke-width="1.1"/>
<text transform="translate(322.50,155.10) scale(1,1.12)" text-anchor="middle" font-size="7.8">200</text>
<text transform="translate(170.6,17.0) scale(1,1.12)" font-size="10.5" font-weight="bold">B</text>
<text transform="translate(265.5,167.7) scale(1,1.14)" text-anchor="middle" font-size="8.9">Time (min)</text>
<text transform="translate(178.2,82.4) rotate(-90)" text-anchor="middle" font-size="10">A<tspan font-size="7.6" dy="1.6">405</tspan></text>
<polyline points="205.80,137.98 206.38,137.80 206.96,137.63 207.54,137.45 208.12,137.28 208.70,137.10 209.28,136.93 209.86,136.75 210.44,136.57 211.03,136.39 211.61,136.21 212.19,136.03 212.77,135.85 213.35,135.67 213.93,135.49 214.51,135.31 215.09,135.12 215.67,134.94 216.25,134.75 216.83,134.57 217.41,134.38 217.99,134.19 218.57,134.00 219.15,133.81 219.73,133.62 220.31,133.43 220.89,133.24 221.48,133.04 222.06,132.84 222.64,132.65 223.22,132.45 223.80,132.25 224.38,132.05 224.96,131.85 225.54,131.65 226.12,131.44 226.70,131.23 227.28,131.03 227.86,130.82 228.44,130.61 229.02,130.40 229.60,130.19 230.18,129.97 230.76,129.76 231.34,129.54 231.93,129.32 232.51,129.10 233.09,128.88 233.67,128.65 234.25,128.43 234.83,128.20 235.41,127.97 235.99,127.74 236.57,127.51 237.15,127.28 237.73,127.04 238.31,126.81 238.89,126.57 239.47,126.33 240.05,126.09 240.63,125.85 241.21,125.60 241.80,125.35 242.38,125.11 242.96,124.86 243.54,124.60 244.12,124.35 244.70,124.10 245.28,123.84 245.86,123.58 246.44,123.32 247.02,123.06 247.60,122.79 248.18,122.53 248.76,122.26 249.34,121.99 249.92,121.72 250.50,121.44 251.08,121.17 251.66,120.89 252.25,120.61 252.83,120.33 253.41,120.05 253.99,119.76 254.57,119.48 255.15,119.19 255.73,118.90 256.31,118.61 256.89,118.32 257.47,118.02 258.05,117.72 258.63,117.42 259.21,117.12 259.79,116.82 260.37,116.52 260.95,116.21 261.53,115.90 262.12,115.60 262.70,115.28 263.28,114.97 263.86,114.66 264.44,114.34 265.02,114.02 265.60,113.70 266.18,113.38 266.76,113.06 267.34,112.73 267.92,112.41 268.50,112.08 269.08,111.75 269.66,111.42 270.24,111.08 270.82,110.75 271.40,110.41 271.98,110.08 272.57,109.74 273.15,109.40 273.73,109.05 274.31,108.71 274.89,108.36 275.47,108.02 276.05,107.67 276.63,107.32 277.21,106.97 277.79,106.62 278.37,106.26 278.95,105.91 279.53,105.55 280.11,105.19 280.69,104.83 281.27,104.47 281.85,104.11 282.43,103.75 283.02,103.39 283.60,103.02 284.18,102.65 284.76,102.29 285.34,101.92 285.92,101.55 286.50,101.18 287.08,100.81 287.66,100.43 288.24,100.06 288.82,99.69 289.40,99.31 289.98,98.94 290.56,98.56 291.14,98.18 291.72,97.80 292.30,97.42 292.89,97.04 293.47,96.66 294.05,96.28 294.63,95.90 295.21,95.52 295.79,95.13 296.37,94.75 296.95,94.37 297.53,93.98 298.11,93.60 298.69,93.21 299.27,92.83 299.85,92.44 300.43,92.05 301.01,91.67 301.59,91.28 302.17,90.89 302.75,90.51 303.34,90.12 303.92,89.73 304.50,89.35 305.08,88.96 305.66,88.57 306.24,88.19 306.82,87.80 307.40,87.42 307.98,87.03 308.56,86.65 309.14,86.26 309.72,85.88 310.30,85.49 310.88,85.11 311.46,84.73 312.04,84.34 312.62,83.96 313.21,83.58 313.79,83.20 314.37,82.82 314.95,82.44 315.53,82.06 316.11,81.69 316.69,81.31 317.27,80.94 317.85,80.56 318.43,80.19 319.01,79.82 319.59,79.45 320.17,79.08 320.75,78.72 321.33,78.35" fill="none" stroke="#d8d8d8" stroke-width="3.4"/>
<polygon points="205.90,138.31 206.48,138.20 207.06,138.10 207.63,137.98 208.21,137.87 208.80,137.75 209.38,137.62 209.96,137.50 210.54,137.36 211.12,137.23 211.70,137.08 212.28,136.94 212.87,136.78 213.45,136.63 214.03,136.46 214.61,136.29 215.20,136.12 215.78,135.94 216.37,135.75 216.95,135.55 217.53,135.35 218.12,135.15 218.70,134.93 219.29,134.71 219.87,134.49 220.46,134.25 221.04,134.01 221.63,133.77 222.22,133.51 222.80,133.25 223.39,132.98 223.97,132.70 224.56,132.42 225.15,132.13 225.73,131.83 226.32,131.52 226.91,131.21 227.49,130.89 228.08,130.56 228.67,130.22 229.25,129.88 229.84,129.53 230.43,129.17 231.02,128.80 231.60,128.43 232.19,128.05 232.78,127.66 233.36,127.26 233.95,126.86 234.54,126.45 235.13,126.03 235.71,125.60 236.30,125.17 236.89,124.73 237.47,124.28 238.06,123.83 238.65,123.37 239.23,122.90 239.82,122.43 240.41,121.95 240.99,121.46 241.58,120.96 242.17,120.46 242.75,119.95 243.34,119.44 243.93,118.92 244.51,118.39 245.10,117.86 245.68,117.32 246.27,116.77 246.86,116.22 247.44,115.67 248.03,115.10 248.61,114.54 249.20,113.96 249.79,113.38 250.37,112.80 250.95,112.21 251.53,111.60 252.11,111.00 252.69,110.39 253.26,109.77 253.84,109.15 254.42,108.53 255.00,107.90 255.57,107.27 256.15,106.63 256.73,105.99 257.31,105.35 257.88,104.70 258.46,104.05 259.04,103.39 259.61,102.73 260.19,102.07 260.77,101.41 261.34,100.74 261.92,100.07 262.50,99.39 263.07,98.72 263.65,98.04 264.23,97.36 264.80,96.67 265.38,95.99 265.95,95.30 266.53,94.61 267.11,93.92 267.68,93.22 268.26,92.53 268.83,91.83 269.41,91.13 269.98,90.43 270.56,89.73 271.13,89.03 271.71,88.32 272.28,87.62 272.86,86.91 273.44,86.21 274.01,85.50 274.59,84.79 275.16,84.08 275.74,83.38 276.31,82.67 276.88,81.96 277.46,81.25 278.03,80.54 278.61,79.83 279.18,79.12 279.76,78.41 280.33,77.70 280.91,76.99 281.48,76.29 282.06,75.58 282.63,74.87 283.21,74.16 283.78,73.46 284.35,72.75 284.93,72.05 285.50,71.34 286.08,70.64 286.65,69.93 287.23,69.23 287.80,68.53 288.37,67.83 288.95,67.12 289.52,66.42 290.10,65.73 290.67,65.03 291.25,64.33 291.82,63.63 292.40,62.94 292.97,62.24 293.54,61.54 294.12,60.85 294.69,60.16 295.27,59.46 295.84,58.77 296.42,58.08 296.99,57.38 297.56,56.69 298.14,56.00 298.71,55.31 299.29,54.62 299.86,53.93 300.44,53.24 301.01,52.54 301.59,51.85 302.16,51.16 302.74,50.47 303.31,49.77 303.89,49.08 304.46,48.38 305.04,47.69 305.61,46.99 306.19,46.29 306.76,45.59 307.34,44.89 307.92,44.18 308.49,43.48 309.07,42.77 309.64,42.06 310.22,41.34 310.80,40.63 311.37,39.91 311.95,39.18 312.53,38.46 313.10,37.73 313.68,36.99 314.26,36.25 314.83,35.51 315.41,34.76 315.99,34.01 316.56,33.25 317.14,32.48 317.72,31.71 318.30,30.93 318.88,30.15 319.45,29.36 320.03,28.56 320.61,27.75 321.19,26.94 319.15,25.49 318.57,26.30 318.00,27.10 317.43,27.89 316.86,28.67 316.29,29.45 315.72,30.22 315.14,30.98 314.57,31.74 314.00,32.49 313.43,33.24 312.86,33.98 312.28,34.72 311.71,35.45 311.14,36.18 310.57,36.91 309.99,37.63 309.42,38.35 308.85,39.06 308.27,39.77 307.70,40.48 307.13,41.19 306.55,41.90 305.98,42.60 305.41,43.30 304.83,44.00 304.26,44.70 303.68,45.40 303.11,46.10 302.54,46.79 301.96,47.48 301.39,48.18 300.81,48.87 300.24,49.56 299.66,50.25 299.09,50.95 298.52,51.64 297.94,52.33 297.37,53.02 296.79,53.71 296.22,54.40 295.64,55.10 295.07,55.79 294.49,56.48 293.92,57.17 293.34,57.87 292.77,58.56 292.19,59.26 291.62,59.95 291.04,60.65 290.47,61.34 289.89,62.04 289.32,62.74 288.74,63.44 288.17,64.14 287.59,64.84 287.02,65.54 286.44,66.24 285.87,66.94 285.29,67.65 284.72,68.35 284.14,69.06 283.57,69.76 282.99,70.47 282.42,71.17 281.84,71.88 281.27,72.59 280.69,73.29 280.12,74.00 279.54,74.71 278.97,75.42 278.39,76.13 277.82,76.84 277.24,77.55 276.67,78.26 276.09,78.97 275.52,79.67 274.94,80.38 274.37,81.09 273.79,81.80 273.22,82.51 272.64,83.22 272.07,83.92 271.50,84.63 270.92,85.33 270.35,86.04 269.77,86.74 269.20,87.44 268.63,88.14 268.05,88.84 267.48,89.54 266.90,90.24 266.33,90.93 265.76,91.63 265.18,92.32 264.61,93.01 264.04,93.70 263.46,94.38 262.89,95.06 262.32,95.74 261.74,96.42 261.17,97.10 260.60,97.77 260.02,98.44 259.45,99.11 258.88,99.77 258.30,100.43 257.73,101.09 257.16,101.74 256.59,102.39 256.01,103.04 255.44,103.68 254.87,104.32 254.30,104.96 253.73,105.59 253.15,106.21 252.58,106.83 252.01,107.45 251.44,108.07 250.87,108.67 250.30,109.28 249.72,109.87 249.15,110.47 248.58,111.06 248.02,111.65 247.46,112.23 246.89,112.81 246.33,113.38 245.77,113.95 245.20,114.51 244.64,115.07 244.08,115.62 243.51,116.17 242.95,116.70 242.39,117.24 241.82,117.76 241.26,118.28 240.70,118.80 240.13,119.30 239.57,119.80 239.01,120.30 238.45,120.78 237.88,121.26 237.32,121.74 236.76,122.20 236.19,122.66 235.63,123.12 235.07,123.56 234.51,124.00 233.95,124.43 233.38,124.86 232.82,125.27 232.26,125.68 231.70,126.09 231.13,126.48 230.57,126.87 230.01,127.25 229.45,127.63 228.88,127.99 228.32,128.35 227.76,128.70 227.20,129.05 226.63,129.39 226.07,129.72 225.51,130.04 224.95,130.36 224.38,130.66 223.82,130.97 223.26,131.26 222.69,131.55 222.13,131.83 221.57,132.10 221.00,132.37 220.44,132.63 219.88,132.88 219.31,133.13 218.75,133.37 218.18,133.60 217.62,133.82 217.05,134.05 216.49,134.26 215.92,134.47 215.36,134.67 214.79,134.87 214.23,135.06 213.66,135.24 213.09,135.42 212.53,135.59 211.96,135.76 211.39,135.93 210.83,136.09 210.26,136.24 209.69,136.39 209.12,136.53 208.55,136.68 207.98,136.81 207.41,136.95 206.84,137.08 206.27,137.20 205.70,137.33" fill="#000" stroke="#000" stroke-width="0.3" stroke-linejoin="round"/>
<path d="M370.70 22.50V142.20H488.00" fill="none" stroke="#000" stroke-width="1.5"/>
<line x1="367.50" y1="142.20" x2="370.70" y2="142.20" stroke="#000" stroke-width="1.1"/>
<text transform="translate(364.20,145.10) scale(1,1.12)" text-anchor="end" font-size="7.8">0.00</text>
<line x1="367.50" y1="113.30" x2="370.70" y2="113.30" stroke="#000" stroke-width="1.1"/>
<text transform="translate(364.20,116.20) scale(1,1.12)" text-anchor="end" font-size="7.8">0.25</text>
<line x1="367.50" y1="84.40" x2="370.70" y2="84.40" stroke="#000" stroke-width="1.1"/>
<text transform="translate(364.20,87.30) scale(1,1.12)" text-anchor="end" font-size="7.8">0.50</text>
<line x1="367.50" y1="55.50" x2="370.70" y2="55.50" stroke="#000" stroke-width="1.1"/>
<text transform="translate(364.20,58.40) scale(1,1.12)" text-anchor="end" font-size="7.8">0.75</text>
<line x1="367.50" y1="26.60" x2="370.70" y2="26.60" stroke="#000" stroke-width="1.1"/>
<text transform="translate(364.20,29.50) scale(1,1.12)" text-anchor="end" font-size="7.8">1.00</text>
<line x1="370.70" y1="142.20" x2="370.70" y2="145.40" stroke="#000" stroke-width="1.1"/>
<text transform="translate(370.70,155.10) scale(1,1.12)" text-anchor="middle" font-size="7.8">0</text>
<line x1="395.02" y1="142.20" x2="395.02" y2="145.40" stroke="#000" stroke-width="1.1"/>
<text transform="translate(395.02,155.10) scale(1,1.12)" text-anchor="middle" font-size="7.8">50</text>
<line x1="419.35" y1="142.20" x2="419.35" y2="145.40" stroke="#000" stroke-width="1.1"/>
<text transform="translate(419.35,155.10) scale(1,1.12)" text-anchor="middle" font-size="7.8">100</text>
<line x1="443.67" y1="142.20" x2="443.67" y2="145.40" stroke="#000" stroke-width="1.1"/>
<text transform="translate(443.67,155.10) scale(1,1.12)" text-anchor="middle" font-size="7.8">150</text>
<line x1="468.00" y1="142.20" x2="468.00" y2="145.40" stroke="#000" stroke-width="1.1"/>
<text transform="translate(468.00,155.10) scale(1,1.12)" text-anchor="middle" font-size="7.8">200</text>
<text transform="translate(335.6,17.0) scale(1,1.12)" font-size="10.5" font-weight="bold">C</text>
<text transform="translate(430,167.7) scale(1,1.14)" text-anchor="middle" font-size="8.9">Time (min)</text>
<text transform="translate(343.2,82.4) rotate(-90)" text-anchor="middle" font-size="10">A<tspan font-size="7.6" dy="1.6">405</tspan></text>
<polyline points="370.70,136.48 371.29,136.28 371.87,136.08 372.46,135.87 373.05,135.67 373.63,135.47 374.22,135.26 374.81,135.05 375.39,134.84 375.98,134.63 376.57,134.42 377.15,134.20 377.74,133.98 378.33,133.77 378.91,133.55 379.50,133.33 380.09,133.10 380.67,132.88 381.26,132.65 381.85,132.43 382.43,132.20 383.02,131.97 383.61,131.74 384.19,131.51 384.78,131.27 385.37,131.04 385.96,130.80 386.54,130.56 387.13,130.32 387.72,130.08 388.30,129.84 388.89,129.60 389.48,129.35 390.06,129.11 390.65,128.86 391.24,128.61 391.82,128.36 392.41,128.11 393.00,127.86 393.58,127.60 394.17,127.35 394.76,127.09 395.34,126.84 395.93,126.58 396.52,126.32 397.10,126.06 397.69,125.80 398.28,125.53 398.86,125.27 399.45,125.01 400.04,124.74 400.62,124.47 401.21,124.20 401.80,123.94 402.38,123.67 402.97,123.40 403.56,123.12 404.14,122.85 404.73,122.58 405.32,122.30 405.90,122.03 406.49,121.75 407.08,121.47 407.66,121.19 408.25,120.91 408.84,120.63 409.42,120.35 410.01,120.07 410.60,119.79 411.18,119.51 411.77,119.22 412.36,118.94 412.94,118.65 413.53,118.36 414.12,118.08 414.71,117.79 415.29,117.50 415.88,117.21 416.47,116.92 417.05,116.63 417.64,116.34 418.23,116.05 418.81,115.75 419.40,115.46 419.99,115.17 420.57,114.87 421.16,114.58 421.75,114.28 422.33,113.99 422.92,113.69 423.51,113.39 424.09,113.09 424.68,112.80 425.27,112.50 425.85,112.20 426.44,111.90 427.03,111.60 427.61,111.30 428.20,111.00 428.79,110.69 429.37,110.39 429.96,110.09 430.55,109.79 431.13,109.48 431.72,109.18 432.31,108.88 432.89,108.57 433.48,108.27 434.07,107.96 434.65,107.66 435.24,107.35 435.83,107.05 436.41,106.74 437.00,106.44 437.59,106.13 438.17,105.82 438.76,105.52 439.35,105.21 439.93,104.90 440.52,104.60 441.11,104.29 441.69,103.98 442.28,103.68 442.87,103.37 443.45,103.06 444.04,102.75 444.63,102.44 445.22,102.14 445.80,101.83 446.39,101.52 446.98,101.21 447.56,100.91 448.15,100.60 448.74,100.29 449.32,99.98 449.91,99.67 450.50,99.37 451.08,99.06 451.67,98.75 452.26,98.44 452.84,98.14 453.43,97.83 454.02,97.52 454.60,97.22 455.19,96.91 455.78,96.60 456.36,96.30 456.95,95.99 457.54,95.69 458.12,95.38 458.71,95.08 459.30,94.77 459.88,94.47 460.47,94.16 461.06,93.86 461.64,93.55 462.23,93.25 462.82,92.95 463.40,92.64 463.99,92.34 464.58,92.04 465.16,91.74 465.75,91.44 466.34,91.14 466.92,90.84 467.51,90.54 468.10,90.24 468.68,89.94 469.27,89.64 469.86,89.34 470.44,89.05 471.03,88.75 471.62,88.45 472.20,88.16 472.79,87.86 473.38,87.57 473.97,87.27 474.55,86.98 475.14,86.69 475.73,86.40 476.31,86.10 476.90,85.81 477.49,85.52 478.07,85.23 478.66,84.94 479.25,84.66 479.83,84.37 480.42,84.08 481.01,83.80 481.59,83.51 482.18,83.23 482.77,82.94 483.35,82.66 483.94,82.38 484.53,82.10 485.11,81.82 485.70,81.54 486.29,81.26 486.87,80.98 487.46,80.71" fill="none" stroke="#111" stroke-width="1.25" stroke-dasharray="2.8 1.5"/>
<polyline points="370.70,136.21 371.29,135.96 371.87,135.71 372.46,135.46 373.05,135.20 373.63,134.95 374.22,134.69 374.81,134.43 375.39,134.17 375.98,133.90 376.57,133.63 377.15,133.37 377.74,133.09 378.33,132.82 378.91,132.54 379.50,132.27 380.09,131.99 380.67,131.71 381.26,131.42 381.85,131.14 382.43,130.85 383.02,130.56 383.61,130.27 384.19,129.97 384.78,129.68 385.37,129.38 385.96,129.08 386.54,128.78 387.13,128.48 387.72,128.17 388.30,127.86 388.89,127.56 389.48,127.25 390.06,126.93 390.65,126.62 391.24,126.30 391.82,125.99 392.41,125.67 393.00,125.35 393.58,125.03 394.17,124.70 394.76,124.38 395.34,124.05 395.93,123.72 396.52,123.39 397.10,123.06 397.69,122.72 398.28,122.39 398.86,122.05 399.45,121.72 400.04,121.38 400.62,121.04 401.21,120.69 401.80,120.35 402.38,120.00 402.97,119.66 403.56,119.31 404.14,118.96 404.73,118.61 405.32,118.26 405.90,117.91 406.49,117.55 407.08,117.20 407.66,116.84 408.25,116.48 408.84,116.12 409.42,115.76 410.01,115.40 410.60,115.04 411.18,114.67 411.77,114.31 412.36,113.94 412.94,113.58 413.53,113.21 414.12,112.84 414.71,112.47 415.29,112.10 415.88,111.72 416.47,111.35 417.05,110.98 417.64,110.60 418.23,110.23 418.81,109.85 419.40,109.47 419.99,109.09 420.57,108.71 421.16,108.33 421.75,107.95 422.33,107.57 422.92,107.19 423.51,106.80 424.09,106.42 424.68,106.03 425.27,105.65 425.85,105.26 426.44,104.87 427.03,104.49 427.61,104.10 428.20,103.71 428.79,103.32 429.37,102.93 429.96,102.54 430.55,102.15 431.13,101.76 431.72,101.36 432.31,100.97 432.89,100.58 433.48,100.18 434.07,99.79 434.65,99.39 435.24,99.00 435.83,98.60 436.41,98.21 437.00,97.81 437.59,97.41 438.17,97.02 438.76,96.62 439.35,96.22 439.93,95.83 440.52,95.43 441.11,95.03 441.69,94.63 442.28,94.23 442.87,93.83 443.45,93.43 444.04,93.03 444.63,92.63 445.22,92.24 445.80,91.84 446.39,91.44 446.98,91.04 447.56,90.64 448.15,90.24 448.74,89.84 449.32,89.44 449.91,89.04 450.50,88.64 451.08,88.24 451.67,87.84 452.26,87.44 452.84,87.04 453.43,86.64 454.02,86.24 454.60,85.84 455.19,85.44 455.78,85.04 456.36,84.65 456.95,84.25 457.54,83.85 458.12,83.45 458.71,83.06 459.30,82.66 459.88,82.26 460.47,81.86 461.06,81.47 461.64,81.07 462.23,80.68 462.82,80.28 463.40,79.89 463.99,79.49 464.58,79.10 465.16,78.71 465.75,78.32 466.34,77.92 466.92,77.53 467.51,77.14 468.10,76.75 468.68,76.36 469.27,75.97 469.86,75.58 470.44,75.20 471.03,74.81 471.62,74.42 472.20,74.04 472.79,73.65 473.38,73.27 473.97,72.88 474.55,72.50 475.14,72.12 475.73,71.74 476.31,71.35 476.90,70.97 477.49,70.60 478.07,70.22 478.66,69.84 479.25,69.46 479.83,69.09 480.42,68.71 481.01,68.34 481.59,67.97 482.18,67.60 482.77,67.23 483.35,66.86 483.94,66.49 484.53,66.12 485.11,65.75 485.70,65.39 486.29,65.02 486.87,64.66 487.46,64.30" fill="none" stroke="#555" stroke-width="1.05"/>
<polygon points="370.70,135.64 371.29,135.36 371.87,135.07 372.46,134.78 373.05,134.48 373.63,134.18 374.22,133.88 374.81,133.57 375.39,133.26 375.98,132.94 376.57,132.62 377.15,132.30 377.74,131.97 378.33,131.64 378.91,131.30 379.50,130.97 380.09,130.62 380.67,130.28 381.26,129.93 381.85,129.58 382.43,129.22 383.02,128.86 383.61,128.50 384.19,128.13 384.78,127.76 385.37,127.39 385.96,127.02 386.54,126.64 387.13,126.26 387.72,125.87 388.30,125.49 388.89,125.09 389.48,124.70 390.06,124.31 390.65,123.91 391.24,123.50 391.82,123.10 392.41,122.69 393.00,122.28 393.58,121.87 394.17,121.45 394.76,121.04 395.34,120.62 395.93,120.19 396.52,119.77 397.10,119.34 397.69,118.91 398.28,118.48 398.86,118.04 399.45,117.60 400.04,117.16 400.62,116.72 401.21,116.28 401.80,115.83 402.38,115.38 402.97,114.93 403.56,114.48 404.14,114.03 404.73,113.57 405.32,113.11 405.90,112.65 406.49,112.19 407.08,111.72 407.66,111.26 408.25,110.79 408.84,110.32 409.42,109.85 410.01,109.38 410.60,108.90 411.18,108.43 411.77,107.95 412.36,107.47 412.94,106.99 413.53,106.51 414.12,106.02 414.71,105.54 415.29,105.05 415.88,104.56 416.47,104.07 417.05,103.58 417.64,103.09 418.23,102.60 418.81,102.11 419.40,101.61 419.99,101.12 420.57,100.62 421.16,100.12 421.75,99.62 422.33,99.12 422.92,98.62 423.51,98.12 424.09,97.62 424.68,97.12 425.27,96.61 425.85,96.11 426.44,95.60 427.03,95.10 427.61,94.59 428.20,94.09 428.79,93.58 429.37,93.07 429.96,92.56 430.55,92.05 431.13,91.54 431.72,91.03 432.31,90.52 432.89,90.01 433.48,89.50 434.07,88.99 434.65,88.48 435.24,87.97 435.83,87.46 436.41,86.95 437.00,86.44 437.59,85.93 438.17,85.41 438.76,84.90 439.35,84.39 439.93,83.88 440.52,83.37 441.11,82.86 441.69,82.35 442.28,81.84 442.87,81.33 443.45,80.82 444.04,80.31 444.63,79.80 445.22,79.29 445.80,78.79 446.39,78.28 446.98,77.77 447.56,77.27 448.15,76.76 448.74,76.26 449.32,75.75 449.91,75.25 450.50,74.75 451.08,74.25 451.67,73.74 452.26,73.24 452.84,72.75 453.43,72.25 454.02,71.75 454.60,71.25 455.19,70.76 455.78,70.27 456.36,69.77 456.95,69.28 457.54,68.79 458.12,68.30 458.71,67.81 459.30,67.33 459.88,66.84 460.47,66.36 461.06,65.87 461.64,65.39 462.23,64.91 462.82,64.43 463.40,63.96 463.99,63.48 464.58,63.01 465.16,62.54 465.75,62.07 466.34,61.60 466.92,61.13 467.51,60.66 468.10,60.20 468.68,59.74 469.27,59.28 469.86,58.82 470.44,58.37 471.03,57.91 471.62,57.46 472.20,57.01 472.79,56.57 473.38,56.12 473.97,55.68 474.55,55.24 475.14,54.80 475.73,54.36 476.31,53.93 476.90,53.49 477.49,53.07 478.07,52.64 478.66,52.21 479.25,51.79 479.83,51.37 480.42,50.96 481.01,50.54 481.59,50.13 482.18,49.72 482.77,49.31 483.35,48.91 483.94,48.51 484.53,48.11 485.11,47.72 485.70,47.32 486.29,46.93 486.87,46.55 487.46,46.16 487.46,52.76 486.87,53.12 486.29,53.47 485.70,53.83 485.11,54.19 484.53,54.55 483.94,54.92 483.35,55.29 482.77,55.66 482.18,56.04 481.59,56.42 481.01,56.80 480.42,57.18 479.83,57.57 479.25,57.96 478.66,58.35 478.07,58.74 477.49,59.14 476.90,59.54 476.31,59.94 475.73,60.34 475.14,60.75 474.55,61.16 473.97,61.57 473.38,61.98 472.79,62.40 472.20,62.81 471.62,63.23 471.03,63.66 470.44,64.08 469.86,64.50 469.27,64.93 468.68,65.36 468.10,65.79 467.51,66.23 466.92,66.66 466.34,67.10 465.75,67.54 465.16,67.98 464.58,68.42 463.99,68.87 463.40,69.31 462.82,69.76 462.23,70.21 461.64,70.66 461.06,71.11 460.47,71.57 459.88,72.02 459.30,72.48 458.71,72.94 458.12,73.40 457.54,73.86 456.95,74.32 456.36,74.78 455.78,75.25 455.19,75.71 454.60,76.18 454.02,76.65 453.43,77.11 452.84,77.58 452.26,78.06 451.67,78.53 451.08,79.00 450.50,79.47 449.91,79.95 449.32,80.42 448.74,80.90 448.15,81.38 447.56,81.85 446.98,82.33 446.39,82.81 445.80,83.29 445.22,83.77 444.63,84.25 444.04,84.73 443.45,85.22 442.87,85.70 442.28,86.18 441.69,86.66 441.11,87.15 440.52,87.63 439.93,88.11 439.35,88.60 438.76,89.08 438.17,89.57 437.59,90.05 437.00,90.54 436.41,91.02 435.83,91.51 435.24,91.99 434.65,92.48 434.07,92.96 433.48,93.45 432.89,93.93 432.31,94.41 431.72,94.90 431.13,95.38 430.55,95.87 429.96,96.35 429.37,96.83 428.79,97.31 428.20,97.80 427.61,98.28 427.03,98.76 426.44,99.24 425.85,99.72 425.27,100.20 424.68,100.68 424.09,101.16 423.51,101.63 422.92,102.11 422.33,102.59 421.75,103.06 421.16,103.54 420.57,104.01 419.99,104.48 419.40,104.95 418.81,105.42 418.23,105.89 417.64,106.36 417.05,106.83 416.47,107.30 415.88,107.76 415.29,108.22 414.71,108.69 414.12,109.15 413.53,109.61 412.94,110.07 412.36,110.53 411.77,110.98 411.18,111.44 410.60,111.89 410.01,112.34 409.42,112.79 408.84,113.24 408.25,113.69 407.66,114.13 407.08,114.58 406.49,115.02 405.90,115.46 405.32,115.90 404.73,116.33 404.14,116.77 403.56,117.20 402.97,117.63 402.38,118.06 401.80,118.49 401.21,118.92 400.62,119.34 400.04,119.76 399.45,120.18 398.86,120.60 398.28,121.01 397.69,121.42 397.10,121.83 396.52,122.24 395.93,122.65 395.34,123.05 394.76,123.45 394.17,123.85 393.58,124.25 393.00,124.64 392.41,125.03 391.82,125.42 391.24,125.81 390.65,126.19 390.06,126.57 389.48,126.95 388.89,127.32 388.30,127.70 387.72,128.07 387.13,128.43 386.54,128.80 385.96,129.16 385.37,129.52 384.78,129.87 384.19,130.22 383.61,130.57 383.02,130.92 382.43,131.26 381.85,131.60 381.26,131.94 380.67,132.27 380.09,132.60 379.50,132.93 378.91,133.26 378.33,133.58 377.74,133.89 377.15,134.21 376.57,134.52 375.98,134.83 375.39,135.13 374.81,135.43 374.22,135.73 373.63,136.02 373.05,136.31 372.46,136.60 371.87,136.88 371.29,137.16 370.70,137.44" fill="#333"/>
<polyline points="370.70,136.54 371.29,136.26 371.87,135.98 372.46,135.69 373.05,135.40 373.63,135.10 374.22,134.80 374.81,134.50 375.39,134.19 375.98,133.88 376.57,133.57 377.15,133.25 377.74,132.93 378.33,132.61 378.91,132.28 379.50,131.95 380.09,131.61 380.67,131.28 381.26,130.93 381.85,130.59 382.43,130.24 383.02,129.89 383.61,129.54 384.19,129.18 384.78,128.82 385.37,128.45 385.96,128.09 386.54,127.72 387.13,127.34 387.72,126.97 388.30,126.59 388.89,126.21 389.48,125.82 390.06,125.44 390.65,125.05 391.24,124.66 391.82,124.26 392.41,123.86 393.00,123.46 393.58,123.06 394.17,122.65 394.76,122.24 395.34,121.83 395.93,121.42 396.52,121.00 397.10,120.59 397.69,120.17 398.28,119.74 398.86,119.32 399.45,118.89 400.04,118.46 400.62,118.03 401.21,117.60 401.80,117.16 402.38,116.72 402.97,116.28 403.56,115.84 404.14,115.40 404.73,114.95 405.32,114.50 405.90,114.05 406.49,113.60 407.08,113.15 407.66,112.70 408.25,112.24 408.84,111.78 409.42,111.32 410.01,110.86 410.60,110.40 411.18,109.93 411.77,109.46 412.36,109.00 412.94,108.53 413.53,108.06 414.12,107.59 414.71,107.11 415.29,106.64 415.88,106.16 416.47,105.69 417.05,105.21 417.64,104.73 418.23,104.25 418.81,103.77 419.40,103.28 419.99,102.80 420.57,102.31 421.16,101.83 421.75,101.34 422.33,100.86 422.92,100.37 423.51,99.88 424.09,99.39 424.68,98.90 425.27,98.41 425.85,97.91 426.44,97.42 427.03,96.93 427.61,96.43 428.20,95.94 428.79,95.45 429.37,94.95 429.96,94.46 430.55,93.96 431.13,93.46 431.72,92.97 432.31,92.47 432.89,91.97 433.48,91.47 434.07,90.98 434.65,90.48 435.24,89.98 435.83,89.48 436.41,88.98 437.00,88.49 437.59,87.99 438.17,87.49 438.76,86.99 439.35,86.50 439.93,86.00 440.52,85.50 441.11,85.00 441.69,84.51 442.28,84.01 442.87,83.51 443.45,83.02 444.04,82.52 444.63,82.03 445.22,81.53 445.80,81.04 446.39,80.55 446.98,80.05 447.56,79.56 448.15,79.07 448.74,78.58 449.32,78.09 449.91,77.60 450.50,77.11 451.08,76.62 451.67,76.14 452.26,75.65 452.84,75.17 453.43,74.68 454.02,74.20 454.60,73.72 455.19,73.24 455.78,72.76 456.36,72.28 456.95,71.80 457.54,71.32 458.12,70.85 458.71,70.37 459.30,69.90 459.88,69.43 460.47,68.96 461.06,68.49 461.64,68.03 462.23,67.56 462.82,67.10 463.40,66.63 463.99,66.17 464.58,65.72 465.16,65.26 465.75,64.80 466.34,64.35 466.92,63.90 467.51,63.45 468.10,63.00 468.68,62.55 469.27,62.11 469.86,61.66 470.44,61.22 471.03,60.78 471.62,60.35 472.20,59.91 472.79,59.48 473.38,59.05 473.97,58.62 474.55,58.20 475.14,57.77 475.73,57.35 476.31,56.93 476.90,56.52 477.49,56.10 478.07,55.69 478.66,55.28 479.25,54.87 479.83,54.47 480.42,54.07 481.01,53.67 481.59,53.27 482.18,52.88 482.77,52.49 483.35,52.10 483.94,51.72 484.53,51.33 485.11,50.95 485.70,50.58 486.29,50.20 486.87,49.83 487.46,49.46" fill="none" stroke="#555" stroke-width="1.2" stroke-dasharray="1.2 1.4"/>
<polyline points="370.70,136.83 371.29,136.53 371.87,136.24 372.46,135.94 373.05,135.63 373.63,135.32 374.22,135.00 374.81,134.68 375.39,134.35 375.98,134.02 376.57,133.68 377.15,133.34 377.74,132.99 378.33,132.64 378.91,132.29 379.50,131.92 380.09,131.56 380.67,131.19 381.26,130.81 381.85,130.44 382.43,130.05 383.02,129.66 383.61,129.27 384.19,128.87 384.78,128.47 385.37,128.07 385.96,127.66 386.54,127.25 387.13,126.83 387.72,126.41 388.30,125.98 388.89,125.56 389.48,125.12 390.06,124.69 390.65,124.25 391.24,123.80 391.82,123.36 392.41,122.91 393.00,122.45 393.58,121.99 394.17,121.53 394.76,121.07 395.34,120.60 395.93,120.13 396.52,119.66 397.10,119.18 397.69,118.70 398.28,118.22 398.86,117.73 399.45,117.24 400.04,116.75 400.62,116.25 401.21,115.76 401.80,115.26 402.38,114.75 402.97,114.25 403.56,113.74 404.14,113.23 404.73,112.72 405.32,112.20 405.90,111.68 406.49,111.16 407.08,110.64 407.66,110.12 408.25,109.59 408.84,109.06 409.42,108.53 410.01,108.00 410.60,107.46 411.18,106.93 411.77,106.39 412.36,105.85 412.94,105.31 413.53,104.77 414.12,104.22 414.71,103.67 415.29,103.13 415.88,102.58 416.47,102.02 417.05,101.47 417.64,100.92 418.23,100.36 418.81,99.81 419.40,99.25 419.99,98.69 420.57,98.13 421.16,97.57 421.75,97.01 422.33,96.45 422.92,95.89 423.51,95.32 424.09,94.76 424.68,94.19 425.27,93.63 425.85,93.06 426.44,92.49 427.03,91.92 427.61,91.36 428.20,90.79 428.79,90.22 429.37,89.65 429.96,89.08 430.55,88.51 431.13,87.94 431.72,87.37 432.31,86.80 432.89,86.23 433.48,85.66 434.07,85.09 434.65,84.53 435.24,83.96 435.83,83.39 436.41,82.82 437.00,82.25 437.59,81.68 438.17,81.12 438.76,80.55 439.35,79.99 439.93,79.42 440.52,78.86 441.11,78.29 441.69,77.73 442.28,77.17 442.87,76.61 443.45,76.05 444.04,75.49 444.63,74.93 445.22,74.37 445.80,73.82 446.39,73.26 446.98,72.71 447.56,72.16 448.15,71.61 448.74,71.06 449.32,70.51 449.91,69.97 450.50,69.42 451.08,68.88 451.67,68.34 452.26,67.80 452.84,67.26 453.43,66.72 454.02,66.19 454.60,65.66 455.19,65.13 455.78,64.60 456.36,64.08 456.95,63.55 457.54,63.03 458.12,62.51 458.71,62.00 459.30,61.48 459.88,60.97 460.47,60.46 461.06,59.95 461.64,59.45 462.23,58.95 462.82,58.45 463.40,57.95 463.99,57.46 464.58,56.97 465.16,56.48 465.75,55.99 466.34,55.51 466.92,55.03 467.51,54.56 468.10,54.08 468.68,53.61 469.27,53.15 469.86,52.69 470.44,52.23 471.03,51.77 471.62,51.32 472.20,50.87 472.79,50.42 473.38,49.98 473.97,49.54 474.55,49.11 475.14,48.68 475.73,48.25 476.31,47.83 476.90,47.41 477.49,46.99 478.07,46.58 478.66,46.17 479.25,45.77 479.83,45.37 480.42,44.97 481.01,44.58 481.59,44.20 482.18,43.82 482.77,43.44 483.35,43.07 483.94,42.70 484.53,42.33 485.11,41.97 485.70,41.62 486.29,41.27 486.87,40.93 487.46,40.59" fill="none" stroke="#999" stroke-width="1.9"/>
<polyline points="370.70,136.83 371.29,136.53 371.87,136.24 372.46,135.94 373.05,135.63 373.63,135.32 374.22,135.00 374.81,134.67 375.39,134.35 375.98,134.01 376.57,133.67 377.15,133.33 377.74,132.98 378.33,132.63 378.91,132.27 379.50,131.91 380.09,131.54 380.67,131.17 381.26,130.79 381.85,130.41 382.43,130.02 383.02,129.63 383.61,129.23 384.19,128.83 384.78,128.43 385.37,128.02 385.96,127.61 386.54,127.19 387.13,126.77 387.72,126.34 388.30,125.91 388.89,125.48 389.48,125.04 390.06,124.60 390.65,124.15 391.24,123.70 391.82,123.25 392.41,122.79 393.00,122.33 393.58,121.87 394.17,121.40 394.76,120.93 395.34,120.46 395.93,119.98 396.52,119.50 397.10,119.01 397.69,118.53 398.28,118.04 398.86,117.54 399.45,117.04 400.04,116.54 400.62,116.04 401.21,115.54 401.80,115.03 402.38,114.52 402.97,114.00 403.56,113.48 404.14,112.96 404.73,112.44 405.32,111.92 405.90,111.39 406.49,110.86 407.08,110.33 407.66,109.79 408.25,109.26 408.84,108.72 409.42,108.18 410.01,107.63 410.60,107.09 411.18,106.54 411.77,105.99 412.36,105.44 412.94,104.88 413.53,104.33 414.12,103.77 414.71,103.21 415.29,102.65 415.88,102.09 416.47,101.53 417.05,100.96 417.64,100.40 418.23,99.83 418.81,99.26 419.40,98.69 419.99,98.12 420.57,97.54 421.16,96.97 421.75,96.39 422.33,95.82 422.92,95.24 423.51,94.66 424.09,94.08 424.68,93.50 425.27,92.92 425.85,92.34 426.44,91.75 427.03,91.17 427.61,90.59 428.20,90.00 428.79,89.42 429.37,88.83 429.96,88.25 430.55,87.66 431.13,87.08 431.72,86.49 432.31,85.90 432.89,85.32 433.48,84.73 434.07,84.14 434.65,83.55 435.24,82.97 435.83,82.38 436.41,81.79 437.00,81.21 437.59,80.62 438.17,80.04 438.76,79.45 439.35,78.87 439.93,78.28 440.52,77.70 441.11,77.12 441.69,76.53 442.28,75.95 442.87,75.37 443.45,74.79 444.04,74.21 444.63,73.63 445.22,73.06 445.80,72.48 446.39,71.90 446.98,71.33 447.56,70.76 448.15,70.18 448.74,69.61 449.32,69.04 449.91,68.48 450.50,67.91 451.08,67.34 451.67,66.78 452.26,66.22 452.84,65.66 453.43,65.10 454.02,64.54 454.60,63.99 455.19,63.43 455.78,62.88 456.36,62.33 456.95,61.79 457.54,61.24 458.12,60.70 458.71,60.16 459.30,59.62 459.88,59.08 460.47,58.55 461.06,58.01 461.64,57.48 462.23,56.96 462.82,56.43 463.40,55.91 463.99,55.39 464.58,54.87 465.16,54.36 465.75,53.85 466.34,53.34 466.92,52.83 467.51,52.33 468.10,51.83 468.68,51.34 469.27,50.84 469.86,50.35 470.44,49.86 471.03,49.38 471.62,48.90 472.20,48.42 472.79,47.95 473.38,47.48 473.97,47.01 474.55,46.55 475.14,46.09 475.73,45.63 476.31,45.18 476.90,44.73 477.49,44.28 478.07,43.84 478.66,43.40 479.25,42.97 479.83,42.54 480.42,42.12 481.01,41.70 481.59,41.28 482.18,40.87 482.77,40.46 483.35,40.05 483.94,39.65 484.53,39.26 485.11,38.87 485.70,38.48 486.29,38.10 486.87,37.72 487.46,37.35" fill="none" stroke="#000" stroke-width="2.2"/>
<text transform="translate(475.7,25.6) scale(1,0.88)" font-size="7.5">polyP (µM)</text>
<text transform="translate(489.2,37.0) scale(1,1.0)" font-size="7.4">70<tspan font-size="5.6" dy="-0.7" letter-spacing="0.45" dx="0.5">***</tspan></text>
<text transform="translate(489.2,43.2) scale(1,1.0)" font-size="7.4">35<tspan font-size="5.6" dy="-0.7" letter-spacing="0.45" dx="0.5">***</tspan></text>
<text transform="translate(489.8,52.4) scale(1,1.0)" font-size="7.4">17.5<tspan font-size="5.6" dy="-0.7" letter-spacing="0.45" dx="0.5">***</tspan></text>
<text transform="translate(489.2,67.0) scale(1,1.0)" font-size="7.4">4.4<tspan font-size="5.6" dy="-0.7" letter-spacing="0.45" dx="0.5">***</tspan></text>
<text transform="translate(489.0,83.4) scale(1,1.0)" font-size="7.4">0</text>
<path d="M42.50 202.70V321.80H161.70" fill="none" stroke="#000" stroke-width="1.5"/>
<line x1="39.30" y1="321.80" x2="42.50" y2="321.80" stroke="#000" stroke-width="1.1"/>
<text transform="translate(36.00,324.70) scale(1,1.12)" text-anchor="end" font-size="7.8">0.00</text>
<line x1="39.30" y1="298.65" x2="42.50" y2="298.65" stroke="#000" stroke-width="1.1"/>
<text transform="translate(36.00,301.55) scale(1,1.12)" text-anchor="end" font-size="7.8">0.25</text>
<line x1="39.30" y1="275.50" x2="42.50" y2="275.50" stroke="#000" stroke-width="1.1"/>
<text transform="translate(36.00,278.40) scale(1,1.12)" text-anchor="end" font-size="7.8">0.50</text>
<line x1="39.30" y1="252.35" x2="42.50" y2="252.35" stroke="#000" stroke-width="1.1"/>
<text transform="translate(36.00,255.25) scale(1,1.12)" text-anchor="end" font-size="7.8">0.75</text>
<line x1="39.30" y1="229.20" x2="42.50" y2="229.20" stroke="#000" stroke-width="1.1"/>
<text transform="translate(36.00,232.10) scale(1,1.12)" text-anchor="end" font-size="7.8">1.00</text>
<line x1="39.30" y1="206.05" x2="42.50" y2="206.05" stroke="#000" stroke-width="1.1"/>
<text transform="translate(36.00,208.95) scale(1,1.12)" text-anchor="end" font-size="7.8">1.25</text>
<line x1="42.50" y1="321.80" x2="42.50" y2="325.00" stroke="#000" stroke-width="1.1"/>
<text transform="translate(42.50,334.70) scale(1,1.12)" text-anchor="middle" font-size="7.8">0</text>
<line x1="71.67" y1="321.80" x2="71.67" y2="325.00" stroke="#000" stroke-width="1.1"/>
<text transform="translate(71.67,334.70) scale(1,1.12)" text-anchor="middle" font-size="7.8">50</text>
<line x1="100.85" y1="321.80" x2="100.85" y2="325.00" stroke="#000" stroke-width="1.1"/>
<text transform="translate(100.85,334.70) scale(1,1.12)" text-anchor="middle" font-size="7.8">100</text>
<line x1="130.03" y1="321.80" x2="130.03" y2="325.00" stroke="#000" stroke-width="1.1"/>
<text transform="translate(130.03,334.70) scale(1,1.12)" text-anchor="middle" font-size="7.8">150</text>
<line x1="159.20" y1="321.80" x2="159.20" y2="325.00" stroke="#000" stroke-width="1.1"/>
<text transform="translate(159.20,334.70) scale(1,1.12)" text-anchor="middle" font-size="7.8">200</text>
<text transform="translate(7.5,196.39999999999998) scale(1,1.12)" font-size="10.5" font-weight="bold">D</text>
<text transform="translate(102.4,347.8) scale(1,1.14)" text-anchor="middle" font-size="8.9">Time (min)</text>
<text transform="translate(16.9,262.4) rotate(-90)" text-anchor="middle" font-size="10">A<tspan font-size="7.6" dy="1.6">405</tspan></text>
<polygon points="45.71,313.21 46.28,312.81 46.84,312.41 47.41,312.02 47.98,311.62 48.55,311.22 49.11,310.83 49.68,310.43 50.25,310.04 50.82,309.64 51.38,309.25 51.95,308.85 52.52,308.46 53.09,308.06 53.65,307.67 54.22,307.28 54.79,306.88 55.35,306.49 55.92,306.10 56.49,305.71 57.06,305.31 57.62,304.92 58.19,304.53 58.76,304.14 59.33,303.75 59.89,303.36 60.46,302.97 61.03,302.58 61.60,302.19 62.16,301.80 62.73,301.41 63.30,301.03 63.87,300.64 64.43,300.25 65.00,299.86 65.57,299.48 66.13,299.09 66.70,298.70 67.27,298.32 67.84,297.93 68.40,297.54 68.97,297.16 69.54,296.77 70.11,296.39 70.67,296.01 71.24,295.62 71.81,295.24 72.38,294.85 72.94,294.47 73.51,294.09 74.08,293.71 74.65,293.32 75.21,292.94 75.78,292.56 76.35,292.18 76.91,291.80 77.48,291.42 78.05,291.04 78.62,290.66 79.18,290.28 79.75,289.90 80.32,289.52 80.89,289.14 81.45,288.76 82.02,288.38 82.59,288.01 83.16,287.63 83.72,287.25 84.29,286.87 84.86,286.50 85.43,286.12 85.99,285.74 86.56,285.37 87.13,284.99 87.69,284.62 88.26,284.24 88.83,283.87 89.40,283.50 89.96,283.12 90.53,282.75 91.10,282.37 91.67,282.00 92.23,281.63 92.80,281.26 93.37,280.88 93.94,280.51 94.50,280.14 95.07,279.77 95.64,279.40 96.21,279.03 96.77,278.66 97.34,278.29 97.91,277.92 98.47,277.55 99.04,277.18 99.61,276.81 100.18,276.44 100.74,276.08 101.31,275.71 101.88,275.34 102.45,274.97 103.01,274.61 103.58,274.24 104.15,273.87 104.72,273.51 105.28,273.14 105.85,272.78 106.42,272.41 106.99,272.05 107.55,271.68 108.12,271.32 108.69,270.96 109.26,270.59 109.82,270.23 110.39,269.87 110.96,269.50 111.52,269.14 112.09,268.78 112.66,268.42 113.23,268.06 113.79,267.70 114.36,267.33 114.93,266.97 115.50,266.61 116.06,266.25 116.63,265.89 117.20,265.54 117.77,265.18 118.33,264.82 118.90,264.46 119.47,264.10 120.04,263.74 120.60,263.39 121.17,263.03 121.74,262.67 122.30,262.32 122.87,261.96 123.44,261.61 124.01,261.25 124.57,260.89 125.14,260.54 125.71,260.19 126.28,259.83 126.84,259.48 127.41,259.12 127.98,258.77 128.55,258.42 129.11,258.06 129.68,257.71 130.25,257.36 130.82,257.01 131.38,256.66 131.95,256.31 132.52,255.96 133.08,255.60 133.65,255.25 134.22,254.90 134.79,254.55 135.35,254.21 135.92,253.86 136.49,253.51 137.06,253.16 137.62,252.81 138.19,252.46 138.76,252.12 139.33,251.77 139.89,251.42 140.46,251.08 141.03,250.73 141.60,250.38 142.16,250.04 142.73,249.69 143.30,249.35 143.86,249.00 144.43,248.66 145.00,248.31 145.57,247.97 146.13,247.63 146.70,247.28 147.27,246.94 147.84,246.60 148.40,246.26 148.97,245.91 149.54,245.57 150.11,245.23 150.67,244.89 151.24,244.55 151.81,244.21 152.38,243.87 152.94,243.53 153.51,243.19 154.08,242.85 154.64,242.51 155.21,242.17 155.78,241.83 156.35,241.50 156.91,241.16 157.48,240.82 158.05,240.48 158.62,240.15 158.62,252.78 158.05,253.06 157.48,253.33 156.91,253.61 156.35,253.88 155.78,254.16 155.21,254.44 154.64,254.71 154.08,254.99 153.51,255.27 152.94,255.55 152.38,255.83 151.81,256.11 151.24,256.39 150.67,256.67 150.11,256.95 149.54,257.24 148.97,257.52 148.40,257.80 147.84,258.09 147.27,258.37 146.70,258.65 146.13,258.94 145.57,259.23 145.00,259.51 144.43,259.80 143.86,260.09 143.30,260.37 142.73,260.66 142.16,260.95 141.60,261.24 141.03,261.53 140.46,261.82 139.89,262.11 139.33,262.40 138.76,262.69 138.19,262.98 137.62,263.28 137.06,263.57 136.49,263.86 135.92,264.16 135.35,264.45 134.79,264.75 134.22,265.04 133.65,265.34 133.08,265.63 132.52,265.93 131.95,266.23 131.38,266.53 130.82,266.82 130.25,267.12 129.68,267.42 129.11,267.72 128.55,268.02 127.98,268.32 127.41,268.62 126.84,268.93 126.28,269.23 125.71,269.53 125.14,269.83 124.57,270.14 124.01,270.44 123.44,270.75 122.87,271.05 122.30,271.36 121.74,271.66 121.17,271.97 120.60,272.28 120.04,272.59 119.47,272.89 118.90,273.20 118.33,273.51 117.77,273.82 117.20,274.13 116.63,274.44 116.06,274.75 115.50,275.07 114.93,275.38 114.36,275.69 113.79,276.00 113.23,276.32 112.66,276.63 112.09,276.95 111.52,277.26 110.96,277.58 110.39,277.89 109.82,278.21 109.26,278.53 108.69,278.84 108.12,279.16 107.55,279.48 106.99,279.80 106.42,280.12 105.85,280.44 105.28,280.76 104.72,281.08 104.15,281.40 103.58,281.72 103.01,282.05 102.45,282.37 101.88,282.69 101.31,283.02 100.74,283.34 100.18,283.66 99.61,283.99 99.04,284.32 98.47,284.64 97.91,284.97 97.34,285.30 96.77,285.62 96.21,285.95 95.64,286.28 95.07,286.61 94.50,286.94 93.94,287.27 93.37,287.60 92.80,287.93 92.23,288.26 91.67,288.60 91.10,288.93 90.53,289.26 89.96,289.60 89.40,289.93 88.83,290.27 88.26,290.60 87.69,290.94 87.13,291.27 86.56,291.61 85.99,291.95 85.43,292.28 84.86,292.62 84.29,292.96 83.72,293.30 83.16,293.64 82.59,293.98 82.02,294.32 81.45,294.66 80.89,295.00 80.32,295.35 79.75,295.69 79.18,296.03 78.62,296.37 78.05,296.72 77.48,297.06 76.91,297.41 76.35,297.75 75.78,298.10 75.21,298.45 74.65,298.79 74.08,299.14 73.51,299.49 72.94,299.84 72.38,300.19 71.81,300.53 71.24,300.88 70.67,301.24 70.11,301.59 69.54,301.94 68.97,302.29 68.40,302.64 67.84,302.99 67.27,303.35 66.70,303.70 66.13,304.06 65.57,304.41 65.00,304.77 64.43,305.12 63.87,305.48 63.30,305.84 62.73,306.19 62.16,306.55 61.60,306.91 61.03,307.27 60.46,307.63 59.89,307.99 59.33,308.35 58.76,308.71 58.19,309.07 57.62,309.43 57.06,309.79 56.49,310.16 55.92,310.52 55.35,310.88 54.79,311.25 54.22,311.61 53.65,311.98 53.09,312.34 52.52,312.71 51.95,313.07 51.38,313.44 50.82,313.81 50.25,314.18 49.68,314.55 49.11,314.91 48.55,315.28 47.98,315.65 47.41,316.03 46.84,316.40 46.28,316.77 45.71,317.14" fill="#eeeeee"/>
<path d="M47.75 312.78V313.09M47.75 314.49V314.80M50.49 310.86V311.24M50.49 312.64V313.02M53.24 308.96V309.40M53.24 310.80V311.24M55.98 307.06V307.57M55.98 308.97V309.48M58.72 305.17V305.75M58.72 307.15V307.73M61.46 303.28V303.94M61.46 305.34V305.99M64.21 301.40V302.13M64.21 303.53V304.26M66.95 299.53V300.34M66.95 301.74V302.55M69.69 297.67V298.56M69.69 299.96V300.84M72.43 295.82V296.78M72.43 298.18V299.15M75.18 293.97V295.02M75.18 296.42V297.47M77.92 292.13V293.26M77.92 294.66V295.80M80.66 290.29V291.51M80.66 292.91V294.14M83.40 288.46V289.78M83.40 291.18V292.49M86.15 286.64V288.05M86.15 289.45V290.86M88.89 284.83V286.33M88.89 287.73V289.23M91.63 283.02V284.62M91.63 286.02V287.62M94.37 281.23V282.92M94.37 284.32V286.02M97.12 279.44V281.23M97.12 282.63V284.43M99.86 277.65V279.55M99.86 280.95V282.85M102.60 275.87V277.88M102.60 279.28V281.28M105.34 274.10V276.21M105.34 277.61V279.72M108.09 272.34V274.56M108.09 275.96V278.18M110.83 270.59V272.92M110.83 274.32V276.65M113.57 268.84V271.28M113.57 272.68V275.13M116.31 267.10V269.66M116.31 271.06V273.62M119.06 265.36V268.04M119.06 269.44V272.12M121.80 263.64V266.43M121.80 267.83V270.63M124.54 261.92V264.84M124.54 266.24V269.16M127.28 260.20V263.25M127.28 264.65V267.69M130.02 258.50V261.67M130.02 263.07V266.24M132.77 256.80V260.10M132.77 261.50V264.80M135.51 255.11V258.54M135.51 259.94V263.37M138.25 253.43V256.99M138.25 258.39V261.95M140.99 251.75V255.45M140.99 256.85V260.54M143.74 250.08V253.92M143.74 255.32V259.15M146.48 248.42V252.39M146.48 253.79V257.77M149.22 246.76V250.88M149.22 252.28V256.39M151.96 245.12V249.37M151.96 250.77V255.03M154.71 243.47V247.88M154.71 249.28V253.68M157.45 241.84V246.39M157.45 247.79V252.35" stroke="#6a6a6a" stroke-width="1.0" fill="none"/>
<polyline points="42.50,315.46 43.08,315.05 43.66,314.64 44.24,314.24 44.82,313.83 45.40,313.42 45.98,313.01 46.56,312.61 47.14,312.20 47.73,311.80 48.31,311.39 48.89,310.98 49.47,310.58 50.05,310.18 50.63,309.77 51.21,309.37 51.79,308.96 52.37,308.56 52.95,308.16 53.53,307.75 54.11,307.35 54.69,306.95 55.27,306.55 55.85,306.15 56.43,305.74 57.01,305.34 57.59,304.94 58.18,304.54 58.76,304.14 59.34,303.74 59.92,303.34 60.50,302.95 61.08,302.55 61.66,302.15 62.24,301.75 62.82,301.35 63.40,300.96 63.98,300.56 64.56,300.16 65.14,299.77 65.72,299.37 66.30,298.97 66.88,298.58 67.46,298.18 68.04,297.79 68.63,297.39 69.21,297.00 69.79,296.61 70.37,296.21 70.95,295.82 71.53,295.43 72.11,295.03 72.69,294.64 73.27,294.25 73.85,293.86 74.43,293.47 75.01,293.08 75.59,292.69 76.17,292.30 76.75,291.91 77.33,291.52 77.91,291.13 78.50,290.74 79.08,290.35 79.66,289.96 80.24,289.57 80.82,289.19 81.40,288.80 81.98,288.41 82.56,288.03 83.14,287.64 83.72,287.25 84.30,286.87 84.88,286.48 85.46,286.10 86.04,285.71 86.62,285.33 87.20,284.94 87.78,284.56 88.36,284.18 88.95,283.79 89.53,283.41 90.11,283.03 90.69,282.65 91.27,282.26 91.85,281.88 92.43,281.50 93.01,281.12 93.59,280.74 94.17,280.36 94.75,279.98 95.33,279.60 95.91,279.22 96.49,278.84 97.07,278.46 97.65,278.08 98.23,277.71 98.82,277.33 99.40,276.95 99.98,276.57 100.56,276.20 101.14,275.82 101.72,275.44 102.30,275.07 102.88,274.69 103.46,274.32 104.04,273.94 104.62,273.57 105.20,273.20 105.78,272.82 106.36,272.45 106.94,272.07 107.52,271.70 108.10,271.33 108.68,270.96 109.27,270.59 109.85,270.21 110.43,269.84 111.01,269.47 111.59,269.10 112.17,268.73 112.75,268.36 113.33,267.99 113.91,267.62 114.49,267.25 115.07,266.88 115.65,266.52 116.23,266.15 116.81,265.78 117.39,265.41 117.97,265.05 118.55,264.68 119.13,264.31 119.72,263.95 120.30,263.58 120.88,263.21 121.46,262.85 122.04,262.48 122.62,262.12 123.20,261.76 123.78,261.39 124.36,261.03 124.94,260.67 125.52,260.30 126.10,259.94 126.68,259.58 127.26,259.22 127.84,258.85 128.42,258.49 129.00,258.13 129.59,257.77 130.17,257.41 130.75,257.05 131.33,256.69 131.91,256.33 132.49,255.97 133.07,255.61 133.65,255.26 134.23,254.90 134.81,254.54 135.39,254.18 135.97,253.83 136.55,253.47 137.13,253.11 137.71,252.76 138.29,252.40 138.87,252.05 139.45,251.69 140.04,251.34 140.62,250.98 141.20,250.63 141.78,250.27 142.36,249.92 142.94,249.57 143.52,249.21 144.10,248.86 144.68,248.51 145.26,248.16 145.84,247.80 146.42,247.45 147.00,247.10 147.58,246.75 148.16,246.40 148.74,246.05 149.32,245.70 149.91,245.35 150.49,245.00 151.07,244.65 151.65,244.31 152.23,243.96 152.81,243.61 153.39,243.26 153.97,242.92 154.55,242.57 155.13,242.22 155.71,241.88 156.29,241.53 156.87,241.18 157.45,240.84 158.03,240.49" fill="none" stroke="#000" stroke-width="1.15"/>
<polyline points="45.71,317.14 46.28,316.77 46.84,316.40 47.41,316.03 47.98,315.65 48.55,315.28 49.11,314.91 49.68,314.55 50.25,314.18 50.82,313.81 51.38,313.44 51.95,313.07 52.52,312.71 53.09,312.34 53.65,311.98 54.22,311.61 54.79,311.25 55.35,310.88 55.92,310.52 56.49,310.16 57.06,309.79 57.62,309.43 58.19,309.07 58.76,308.71 59.33,308.35 59.89,307.99 60.46,307.63 61.03,307.27 61.60,306.91 62.16,306.55 62.73,306.19 63.30,305.84 63.87,305.48 64.43,305.12 65.00,304.77 65.57,304.41 66.13,304.06 66.70,303.70 67.27,303.35 67.84,302.99 68.40,302.64 68.97,302.29 69.54,301.94 70.11,301.59 70.67,301.24 71.24,300.88 71.81,300.53 72.38,300.19 72.94,299.84 73.51,299.49 74.08,299.14 74.65,298.79 75.21,298.45 75.78,298.10 76.35,297.75 76.91,297.41 77.48,297.06 78.05,296.72 78.62,296.37 79.18,296.03 79.75,295.69 80.32,295.35 80.89,295.00 81.45,294.66 82.02,294.32 82.59,293.98 83.16,293.64 83.72,293.30 84.29,292.96 84.86,292.62 85.43,292.28 85.99,291.95 86.56,291.61 87.13,291.27 87.69,290.94 88.26,290.60 88.83,290.27 89.40,289.93 89.96,289.60 90.53,289.26 91.10,288.93 91.67,288.60 92.23,288.26 92.80,287.93 93.37,287.60 93.94,287.27 94.50,286.94 95.07,286.61 95.64,286.28 96.21,285.95 96.77,285.62 97.34,285.30 97.91,284.97 98.47,284.64 99.04,284.32 99.61,283.99 100.18,283.66 100.74,283.34 101.31,283.02 101.88,282.69 102.45,282.37 103.01,282.05 103.58,281.72 104.15,281.40 104.72,281.08 105.28,280.76 105.85,280.44 106.42,280.12 106.99,279.80 107.55,279.48 108.12,279.16 108.69,278.84 109.26,278.53 109.82,278.21 110.39,277.89 110.96,277.58 111.52,277.26 112.09,276.95 112.66,276.63 113.23,276.32 113.79,276.00 114.36,275.69 114.93,275.38 115.50,275.07 116.06,274.75 116.63,274.44 117.20,274.13 117.77,273.82 118.33,273.51 118.90,273.20 119.47,272.89 120.04,272.59 120.60,272.28 121.17,271.97 121.74,271.66 122.30,271.36 122.87,271.05 123.44,270.75 124.01,270.44 124.57,270.14 125.14,269.83 125.71,269.53 126.28,269.23 126.84,268.93 127.41,268.62 127.98,268.32 128.55,268.02 129.11,267.72 129.68,267.42 130.25,267.12 130.82,266.82 131.38,266.53 131.95,266.23 132.52,265.93 133.08,265.63 133.65,265.34 134.22,265.04 134.79,264.75 135.35,264.45 135.92,264.16 136.49,263.86 137.06,263.57 137.62,263.28 138.19,262.98 138.76,262.69 139.33,262.40 139.89,262.11 140.46,261.82 141.03,261.53 141.60,261.24 142.16,260.95 142.73,260.66 143.30,260.37 143.86,260.09 144.43,259.80 145.00,259.51 145.57,259.23 146.13,258.94 146.70,258.65 147.27,258.37 147.84,258.09 148.40,257.80 148.97,257.52 149.54,257.24 150.11,256.95 150.67,256.67 151.24,256.39 151.81,256.11 152.38,255.83 152.94,255.55 153.51,255.27 154.08,254.99 154.64,254.71 155.21,254.44 155.78,254.16 156.35,253.88 156.91,253.61 157.48,253.33 158.05,253.06 158.62,252.78" fill="none" stroke="#111" stroke-width="1.1"/>
<path d="M205.80 201.00V321.80H326.00" fill="none" stroke="#000" stroke-width="1.5"/>
<line x1="202.60" y1="321.80" x2="205.80" y2="321.80" stroke="#000" stroke-width="1.1"/>
<text transform="translate(199.30,324.70) scale(1,1.12)" text-anchor="end" font-size="7.8">0.00</text>
<line x1="202.60" y1="298.25" x2="205.80" y2="298.25" stroke="#000" stroke-width="1.1"/>
<text transform="translate(199.30,301.15) scale(1,1.12)" text-anchor="end" font-size="7.8">0.25</text>
<line x1="202.60" y1="274.70" x2="205.80" y2="274.70" stroke="#000" stroke-width="1.1"/>
<text transform="translate(199.30,277.60) scale(1,1.12)" text-anchor="end" font-size="7.8">0.50</text>
<line x1="202.60" y1="251.15" x2="205.80" y2="251.15" stroke="#000" stroke-width="1.1"/>
<text transform="translate(199.30,254.05) scale(1,1.12)" text-anchor="end" font-size="7.8">0.75</text>
<line x1="202.60" y1="227.60" x2="205.80" y2="227.60" stroke="#000" stroke-width="1.1"/>
<text transform="translate(199.30,230.50) scale(1,1.12)" text-anchor="end" font-size="7.8">1.00</text>
<line x1="202.60" y1="204.05" x2="205.80" y2="204.05" stroke="#000" stroke-width="1.1"/>
<text transform="translate(199.30,206.95) scale(1,1.12)" text-anchor="end" font-size="7.8">1.25</text>
<line x1="205.80" y1="321.80" x2="205.80" y2="325.00" stroke="#000" stroke-width="1.1"/>
<text transform="translate(205.80,334.70) scale(1,1.12)" text-anchor="middle" font-size="7.8">0</text>
<line x1="235.40" y1="321.80" x2="235.40" y2="325.00" stroke="#000" stroke-width="1.1"/>
<text transform="translate(235.40,334.70) scale(1,1.12)" text-anchor="middle" font-size="7.8">50</text>
<line x1="265.00" y1="321.80" x2="265.00" y2="325.00" stroke="#000" stroke-width="1.1"/>
<text transform="translate(265.00,334.70) scale(1,1.12)" text-anchor="middle" font-size="7.8">100</text>
<line x1="294.60" y1="321.80" x2="294.60" y2="325.00" stroke="#000" stroke-width="1.1"/>
<text transform="translate(294.60,334.70) scale(1,1.12)" text-anchor="middle" font-size="7.8">150</text>
<line x1="324.20" y1="321.80" x2="324.20" y2="325.00" stroke="#000" stroke-width="1.1"/>
<text transform="translate(324.20,334.70) scale(1,1.12)" text-anchor="middle" font-size="7.8">200</text>
<text transform="translate(170.8,196.39999999999998) scale(1,1.12)" font-size="10.5" font-weight="bold">E</text>
<text transform="translate(265.5,347.8) scale(1,1.14)" text-anchor="middle" font-size="8.9">Time (min)</text>
<text transform="translate(179.1,262.2) rotate(-90)" text-anchor="middle" font-size="10">A<tspan font-size="7.6" dy="1.6">405</tspan></text>
<polyline points="205.80,313.93 206.52,313.77 207.23,313.60 207.95,313.43 208.67,313.27 209.39,313.10 210.10,312.93 210.82,312.76 211.54,312.58 212.25,312.41 212.97,312.24 213.69,312.07 214.41,311.89 215.12,311.72 215.84,311.54 216.56,311.37 217.27,311.19 217.99,311.01 218.71,310.83 219.43,310.66 220.14,310.48 220.86,310.30 221.58,310.11 222.29,309.93 223.01,309.75 223.73,309.57 224.45,309.38 225.16,309.20 225.88,309.01 226.60,308.83 227.31,308.64 228.03,308.45 228.75,308.27 229.47,308.08 230.18,307.89 230.90,307.70 231.62,307.51 232.33,307.31 233.05,307.12 233.77,306.93 234.49,306.74 235.20,306.54 235.92,306.35 236.64,306.15 237.35,305.95 238.07,305.76 238.79,305.56 239.51,305.36 240.22,305.16 240.94,304.96 241.66,304.76 242.37,304.56 243.09,304.36 243.81,304.15 244.53,303.95 245.24,303.75 245.96,303.54 246.68,303.34 247.39,303.13 248.11,302.92 248.83,302.71 249.55,302.51 250.26,302.30 250.98,302.09 251.70,301.88 252.42,301.67 253.13,301.45 253.85,301.24 254.57,301.03 255.28,300.81 256.00,300.60 256.72,300.38 257.44,300.17 258.15,299.95 258.87,299.73 259.59,299.51 260.30,299.30 261.02,299.08 261.74,298.86 262.46,298.63 263.17,298.41 263.89,298.19 264.61,297.97 265.32,297.74 266.04,297.52 266.76,297.29 267.48,297.07 268.19,296.84 268.91,296.61 269.63,296.39 270.34,296.16 271.06,295.93 271.78,295.70 272.50,295.47 273.21,295.23 273.93,295.00 274.65,294.77 275.36,294.54 276.08,294.30 276.80,294.07 277.52,293.83 278.23,293.59 278.95,293.36 279.67,293.12 280.38,292.88 281.10,292.64 281.82,292.40 282.54,292.16 283.25,291.92 283.97,291.68 284.69,291.43 285.40,291.19 286.12,290.95 286.84,290.70 287.56,290.46 288.27,290.21 288.99,289.96 289.71,289.71 290.42,289.47 291.14,289.22 291.86,288.97 292.58,288.72 293.29,288.46 294.01,288.21 294.73,287.96 295.44,287.71 296.16,287.45 296.88,287.20 297.60,286.94 298.31,286.69 299.03,286.43 299.75,286.17 300.46,285.91 301.18,285.65 301.90,285.39 302.62,285.13 303.33,284.87 304.05,284.61 304.77,284.35 305.48,284.09 306.20,283.82 306.92,283.56 307.64,283.29 308.35,283.03 309.07,282.76 309.79,282.49 310.50,282.22 311.22,281.96 311.94,281.69 312.66,281.42" fill="none" stroke="#9a9a9a" stroke-width="1.2"/>
<polyline points="205.80,313.93 206.52,313.77 207.23,313.60 207.95,313.43 208.67,313.27 209.39,313.10 210.10,312.93 210.82,312.76 211.54,312.58 212.25,312.41 212.97,312.24 213.69,312.07 214.41,311.89 215.12,311.72 215.84,311.54 216.56,311.37 217.27,311.19 217.99,311.01 218.71,310.83 219.43,310.66 220.14,310.48 220.86,310.30 221.58,310.11 222.29,309.93 223.01,309.75 223.73,309.57 224.45,309.38 225.16,309.20 225.88,309.01 226.60,308.83 227.31,308.64 228.03,308.45 228.75,308.27 229.47,308.08 230.18,307.89 230.90,307.70 231.62,307.51 232.33,307.31 233.05,307.12 233.77,306.93 234.49,306.74 235.20,306.54 235.92,306.35 236.64,306.15 237.35,305.95 238.07,305.76 238.79,305.56 239.51,305.36 240.22,305.16 240.94,304.96 241.66,304.76 242.37,304.56 243.09,304.36 243.81,304.15 244.53,303.95 245.24,303.75 245.96,303.54 246.68,303.34 247.39,303.13 248.11,302.92 248.83,302.71 249.55,302.51 250.26,302.30 250.98,302.09 251.70,301.88 252.42,301.67 253.13,301.45 253.85,301.24 254.57,301.03 255.28,300.81 256.00,300.60 256.72,300.38 257.44,300.17 258.15,299.95 258.87,299.73 259.59,299.51 260.30,299.30 261.02,299.08 261.74,298.86" fill="none" stroke="#222" stroke-width="1.3" stroke-dasharray="0.9 1.1"/>
<polyline points="259.59,299.51 260.30,299.30 261.02,299.08 261.74,298.86 262.46,298.63 263.17,298.41 263.89,298.19 264.61,297.97 265.32,297.74 266.04,297.52 266.76,297.29 267.48,297.07 268.19,296.84 268.91,296.61 269.63,296.39 270.34,296.16 271.06,295.93 271.78,295.70 272.50,295.47 273.21,295.23 273.93,295.00 274.65,294.77 275.36,294.54 276.08,294.30 276.80,294.07 277.52,293.83 278.23,293.59 278.95,293.36 279.67,293.12 280.38,292.88 281.10,292.64 281.82,292.40 282.54,292.16 283.25,291.92 283.97,291.68 284.69,291.43 285.40,291.19 286.12,290.95 286.84,290.70 287.56,290.46 288.27,290.21 288.99,289.96 289.71,289.71 290.42,289.47 291.14,289.22 291.86,288.97 292.58,288.72 293.29,288.46 294.01,288.21 294.73,287.96 295.44,287.71 296.16,287.45 296.88,287.20 297.60,286.94 298.31,286.69 299.03,286.43 299.75,286.17 300.46,285.91 301.18,285.65 301.90,285.39 302.62,285.13 303.33,284.87 304.05,284.61 304.77,284.35 305.48,284.09 306.20,283.82 306.92,283.56 307.64,283.29 308.35,283.03 309.07,282.76 309.79,282.49 310.50,282.22 311.22,281.96 311.94,281.69 312.66,281.42" fill="none" stroke="#1a1a1a" stroke-width="1.25"/>
<path d="M370.40 204.80V321.40H489.80" fill="none" stroke="#000" stroke-width="1.5"/>
<line x1="367.20" y1="321.40" x2="370.40" y2="321.40" stroke="#000" stroke-width="1.1"/>
<text transform="translate(363.90,324.30) scale(1,1.12)" text-anchor="end" font-size="7.8">0.00</text>
<line x1="367.20" y1="276.80" x2="370.40" y2="276.80" stroke="#000" stroke-width="1.1"/>
<text transform="translate(363.90,279.70) scale(1,1.12)" text-anchor="end" font-size="7.8">0.25</text>
<line x1="367.20" y1="232.20" x2="370.40" y2="232.20" stroke="#000" stroke-width="1.1"/>
<text transform="translate(363.90,235.10) scale(1,1.12)" text-anchor="end" font-size="7.8">0.50</text>
<line x1="370.40" y1="321.40" x2="370.40" y2="324.60" stroke="#000" stroke-width="1.1"/>
<text transform="translate(370.40,334.30) scale(1,1.12)" text-anchor="middle" font-size="7.8">0</text>
<line x1="399.67" y1="321.40" x2="399.67" y2="324.60" stroke="#000" stroke-width="1.1"/>
<text transform="translate(399.67,334.30) scale(1,1.12)" text-anchor="middle" font-size="7.8">50</text>
<line x1="428.95" y1="321.40" x2="428.95" y2="324.60" stroke="#000" stroke-width="1.1"/>
<text transform="translate(428.95,334.30) scale(1,1.12)" text-anchor="middle" font-size="7.8">100</text>
<line x1="458.22" y1="321.40" x2="458.22" y2="324.60" stroke="#000" stroke-width="1.1"/>
<text transform="translate(458.22,334.30) scale(1,1.12)" text-anchor="middle" font-size="7.8">150</text>
<line x1="487.50" y1="321.40" x2="487.50" y2="324.60" stroke="#000" stroke-width="1.1"/>
<text transform="translate(487.50,334.30) scale(1,1.12)" text-anchor="middle" font-size="7.8">200</text>
<text transform="translate(335.0,196.39999999999998) scale(1,1.12)" font-size="10.5" font-weight="bold">F</text>
<text transform="translate(430.6,347.8) scale(1,1.14)" text-anchor="middle" font-size="8.9">Time (min)</text>
<text transform="translate(343.2,263.1) rotate(-90)" text-anchor="middle" font-size="10">A<tspan font-size="7.6" dy="1.6">405</tspan></text>
<polygon points="370.40,312.00 370.99,311.85 371.58,311.70 372.17,311.55 372.75,311.40 373.34,311.24 373.93,311.08 374.52,310.92 375.11,310.75 375.70,310.59 376.28,310.42 376.87,310.25 377.46,310.07 378.05,309.90 378.64,309.72 379.23,309.54 379.82,309.36 380.40,309.18 380.99,308.99 381.58,308.80 382.17,308.61 382.76,308.42 383.35,308.23 383.93,308.03 384.52,307.84 385.11,307.64 385.70,307.43 386.29,307.23 386.88,307.02 387.46,306.82 388.05,306.61 388.64,306.40 389.23,306.18 389.82,305.97 390.41,305.75 391.00,305.53 391.58,305.31 392.17,305.09 392.76,304.86 393.35,304.64 393.94,304.41 394.53,304.18 395.11,303.95 395.70,303.71 396.29,303.48 396.88,303.24 397.47,303.00 398.06,302.76 398.65,302.52 399.23,302.28 399.82,302.03 400.41,301.79 401.00,301.54 401.59,301.29 402.18,301.03 402.76,300.78 403.35,300.53 403.94,300.27 404.53,300.01 405.12,299.75 405.71,299.49 406.29,299.23 406.88,298.96 407.47,298.70 408.06,298.43 408.65,298.16 409.24,297.89 409.83,297.62 410.41,297.35 411.00,297.07 411.59,296.80 412.18,296.52 412.77,296.24 413.36,295.96 413.94,295.68 414.53,295.39 415.12,295.11 415.71,294.83 416.30,294.54 416.89,294.25 417.48,293.96 418.06,293.67 418.65,293.38 419.24,293.09 419.83,292.79 420.42,292.50 421.01,292.20 421.59,291.90 422.18,291.60 422.77,291.30 423.36,291.00 423.95,290.70 424.54,290.39 425.13,290.09 425.71,289.78 426.30,289.48 426.89,289.17 427.48,288.86 428.07,288.55 428.66,288.24 429.24,287.93 429.83,287.61 430.42,287.30 431.01,286.99 431.60,286.67 432.19,286.35 432.77,286.03 433.36,285.72 433.95,285.40 434.54,285.08 435.13,284.75 435.72,284.43 436.31,284.11 436.89,283.78 437.48,283.46 438.07,283.13 438.66,282.81 439.25,282.48 439.84,282.15 440.42,281.82 441.01,281.49 441.60,281.16 442.19,280.83 442.78,280.50 443.37,280.17 443.96,279.84 444.54,279.50 445.13,279.17 445.72,278.83 446.31,278.50 446.90,278.16 447.49,277.82 448.07,277.49 448.66,277.15 449.25,276.81 449.84,276.47 450.43,276.13 451.02,275.79 451.61,275.45 452.19,275.11 452.78,274.77 453.37,274.43 453.96,274.08 454.55,273.74 455.14,273.40 455.72,273.05 456.31,272.71 456.90,272.36 457.49,272.02 458.08,271.67 458.67,271.33 459.25,270.98 459.84,270.64 460.43,270.29 461.02,269.94 461.61,269.60 462.20,269.25 462.79,268.90 463.37,268.56 463.96,268.21 464.55,267.86 465.14,267.51 465.73,267.16 466.32,266.81 466.90,266.47 467.49,266.12 468.08,265.77 468.67,265.42 469.26,265.07 469.85,264.72 470.44,264.37 471.02,264.02 471.61,263.67 472.20,263.32 472.79,262.97 473.38,262.62 473.97,262.27 474.55,261.92 475.14,261.58 475.73,261.23 476.32,260.88 476.91,260.53 477.50,260.18 478.08,259.83 478.67,259.48 479.26,259.13 479.85,258.78 480.44,258.44 481.03,258.09 481.62,257.74 482.20,257.39 482.79,257.04 483.38,256.70 483.97,256.35 484.56,256.00 485.15,255.66 485.73,255.31 486.32,254.97 486.91,254.62 487.50,254.28 487.50,263.48 486.91,263.78 486.32,264.08 485.73,264.38 485.15,264.69 484.56,264.99 483.97,265.30 483.38,265.60 482.79,265.91 482.20,266.21 481.62,266.52 481.03,266.82 480.44,267.13 479.85,267.43 479.26,267.74 478.67,268.05 478.08,268.35 477.50,268.66 476.91,268.97 476.32,269.27 475.73,269.58 475.14,269.89 474.55,270.19 473.97,270.50 473.38,270.81 472.79,271.11 472.20,271.42 471.61,271.73 471.02,272.03 470.44,272.34 469.85,272.65 469.26,272.95 468.67,273.26 468.08,273.57 467.49,273.87 466.90,274.18 466.32,274.49 465.73,274.79 465.14,275.10 464.55,275.40 463.96,275.71 463.37,276.01 462.79,276.32 462.20,276.62 461.61,276.93 461.02,277.23 460.43,277.54 459.84,277.84 459.25,278.15 458.67,278.45 458.08,278.75 457.49,279.05 456.90,279.36 456.31,279.66 455.72,279.96 455.14,280.26 454.55,280.56 453.96,280.86 453.37,281.16 452.78,281.46 452.19,281.76 451.61,282.06 451.02,282.36 450.43,282.66 449.84,282.95 449.25,283.25 448.66,283.55 448.07,283.84 447.49,284.14 446.90,284.43 446.31,284.73 445.72,285.02 445.13,285.31 444.54,285.61 443.96,285.90 443.37,286.19 442.78,286.48 442.19,286.77 441.60,287.06 441.01,287.35 440.42,287.63 439.84,287.92 439.25,288.21 438.66,288.49 438.07,288.78 437.48,289.06 436.89,289.34 436.31,289.63 435.72,289.91 435.13,290.19 434.54,290.47 433.95,290.75 433.36,291.03 432.77,291.30 432.19,291.58 431.60,291.85 431.01,292.13 430.42,292.40 429.83,292.68 429.24,292.95 428.66,293.22 428.07,293.49 427.48,293.76 426.89,294.03 426.30,294.29 425.71,294.56 425.13,294.82 424.54,295.09 423.95,295.35 423.36,295.61 422.77,295.87 422.18,296.13 421.59,296.39 421.01,296.65 420.42,296.90 419.83,297.16 419.24,297.41 418.65,297.66 418.06,297.91 417.48,298.16 416.89,298.41 416.30,298.66 415.71,298.91 415.12,299.15 414.53,299.40 413.94,299.64 413.36,299.88 412.77,300.12 412.18,300.36 411.59,300.59 411.00,300.83 410.41,301.06 409.83,301.30 409.24,301.53 408.65,301.76 408.06,301.99 407.47,302.22 406.88,302.44 406.29,302.67 405.71,302.89 405.12,303.11 404.53,303.33 403.94,303.55 403.35,303.76 402.76,303.98 402.18,304.19 401.59,304.40 401.00,304.61 400.41,304.82 399.82,305.03 399.23,305.24 398.65,305.44 398.06,305.64 397.47,305.84 396.88,306.04 396.29,306.24 395.70,306.43 395.11,306.63 394.53,306.82 393.94,307.01 393.35,307.20 392.76,307.38 392.17,307.57 391.58,307.75 391.00,307.93 390.41,308.11 389.82,308.29 389.23,308.46 388.64,308.64 388.05,308.81 387.46,308.98 386.88,309.14 386.29,309.31 385.70,309.47 385.11,309.64 384.52,309.80 383.93,309.95 383.35,310.11 382.76,310.26 382.17,310.42 381.58,310.57 380.99,310.71 380.40,310.86 379.82,311.00 379.23,311.14 378.64,311.28 378.05,311.42 377.46,311.55 376.87,311.69 376.28,311.82 375.70,311.95 375.11,312.07 374.52,312.20 373.93,312.32 373.34,312.44 372.75,312.56 372.17,312.67 371.58,312.78 370.99,312.89 370.40,313.00" fill="#dcdcdc"/>
<polyline points="370.40,312.50 370.99,312.37 371.58,312.24 372.17,312.11 372.75,311.98 373.34,311.84 373.93,311.70 374.52,311.56 375.11,311.41 375.70,311.27 376.28,311.12 376.87,310.97 377.46,310.81 378.05,310.66 378.64,310.50 379.23,310.34 379.82,310.18 380.40,310.02 380.99,309.85 381.58,309.68 382.17,309.52 382.76,309.34 383.35,309.17 383.93,308.99 384.52,308.82 385.11,308.64 385.70,308.45 386.29,308.27 386.88,308.08 387.46,307.90 388.05,307.71 388.64,307.52 389.23,307.32 389.82,307.13 390.41,306.93 391.00,306.73 391.58,306.53 392.17,306.33 392.76,306.12 393.35,305.92 393.94,305.71 394.53,305.50 395.11,305.29 395.70,305.07 396.29,304.86 396.88,304.64 397.47,304.42 398.06,304.20 398.65,303.98 399.23,303.76 399.82,303.53 400.41,303.30 401.00,303.08 401.59,302.85 402.18,302.61 402.76,302.38 403.35,302.14 403.94,301.91 404.53,301.67 405.12,301.43 405.71,301.19 406.29,300.95 406.88,300.70 407.47,300.46 408.06,300.21 408.65,299.96 409.24,299.71 409.83,299.46 410.41,299.21 411.00,298.95 411.59,298.69 412.18,298.44 412.77,298.18 413.36,297.92 413.94,297.66 414.53,297.40 415.12,297.13 415.71,296.87 416.30,296.60 416.89,296.33 417.48,296.06 418.06,295.79 418.65,295.52 419.24,295.25 419.83,294.97 420.42,294.70 421.01,294.42 421.59,294.15 422.18,293.87 422.77,293.59 423.36,293.31 423.95,293.02 424.54,292.74 425.13,292.46 425.71,292.17 426.30,291.89 426.89,291.60 427.48,291.31 428.07,291.02 428.66,290.73 429.24,290.44 429.83,290.15 430.42,289.85 431.01,289.56 431.60,289.26 432.19,288.97 432.77,288.67 433.36,288.37 433.95,288.07 434.54,287.77 435.13,287.47 435.72,287.17 436.31,286.87 436.89,286.56 437.48,286.26 438.07,285.96 438.66,285.65 439.25,285.34 439.84,285.04 440.42,284.73 441.01,284.42 441.60,284.11 442.19,283.80 442.78,283.49 443.37,283.18 443.96,282.87 444.54,282.55 445.13,282.24 445.72,281.93 446.31,281.61 446.90,281.30 447.49,280.98 448.07,280.66 448.66,280.35 449.25,280.03 449.84,279.71 450.43,279.39 451.02,279.07 451.61,278.76 452.19,278.44 452.78,278.12 453.37,277.79 453.96,277.47 454.55,277.15 455.14,276.83 455.72,276.51 456.31,276.18 456.90,275.86 457.49,275.54 458.08,275.21 458.67,274.89 459.25,274.56 459.84,274.24 460.43,273.91 461.02,273.59 461.61,273.26 462.20,272.94 462.79,272.61 463.37,272.28 463.96,271.96 464.55,271.63 465.14,271.30 465.73,270.98 466.32,270.65 466.90,270.32 467.49,269.99 468.08,269.67 468.67,269.34 469.26,269.01 469.85,268.68 470.44,268.36 471.02,268.03 471.61,267.70 472.20,267.37 472.79,267.04 473.38,266.71 473.97,266.39 474.55,266.06 475.14,265.73 475.73,265.40 476.32,265.07 476.91,264.75 477.50,264.42 478.08,264.09 478.67,263.76 479.26,263.44 479.85,263.11 480.44,262.78 481.03,262.46 481.62,262.13 482.20,261.80 482.79,261.48 483.38,261.15 483.97,260.82 484.56,260.50 485.15,260.17 485.73,259.85 486.32,259.52 486.91,259.20 487.50,258.88" fill="none" stroke="#d0d0d0" stroke-width="1.4"/>
<polygon points="370.40,311.75 370.99,311.64 371.58,311.52 372.17,311.39 372.75,311.26 373.34,311.12 373.93,310.97 374.52,310.81 375.11,310.65 375.70,310.47 376.28,310.30 376.87,310.11 377.46,309.92 378.05,309.72 378.64,309.52 379.23,309.30 379.82,309.09 380.40,308.86 380.99,308.63 381.58,308.39 382.17,308.15 382.76,307.89 383.35,307.64 383.93,307.37 384.52,307.10 385.11,306.82 385.70,306.54 386.29,306.25 386.88,305.96 387.46,305.66 388.05,305.35 388.64,305.03 389.23,304.72 389.82,304.39 390.41,304.06 391.00,303.72 391.58,303.38 392.17,303.03 392.76,302.68 393.35,302.32 393.94,301.95 394.53,301.58 395.11,301.21 395.70,300.83 396.29,300.44 396.88,300.05 397.47,299.65 398.06,299.25 398.65,298.84 399.23,298.43 399.82,298.01 400.41,297.59 401.00,297.16 401.59,296.73 402.18,296.29 402.76,295.85 403.35,295.40 403.94,294.94 404.53,294.48 405.12,294.02 405.71,293.55 406.29,293.08 406.88,292.60 407.47,292.12 408.06,291.63 408.65,291.14 409.24,290.64 409.83,290.14 410.41,289.64 411.00,289.13 411.59,288.62 412.18,288.11 412.77,287.59 413.36,287.07 413.94,286.54 414.53,286.01 415.12,285.48 415.71,284.94 416.30,284.41 416.89,283.86 417.48,283.32 418.06,282.77 418.65,282.22 419.24,281.67 419.83,281.12 420.42,280.56 421.01,280.00 421.59,279.44 422.18,278.87 422.77,278.31 423.36,277.74 423.95,277.17 424.54,276.60 425.13,276.03 425.71,275.45 426.30,274.88 426.89,274.30 427.48,273.72 428.07,273.14 428.66,272.56 429.24,271.98 429.83,271.39 430.42,270.81 431.01,270.22 431.60,269.63 432.19,269.04 432.77,268.45 433.36,267.86 433.95,267.27 434.54,266.67 435.13,266.07 435.72,265.48 436.31,264.88 436.89,264.28 437.48,263.68 438.07,263.07 438.66,262.47 439.25,261.87 439.84,261.26 440.42,260.66 441.01,260.05 441.60,259.45 442.19,258.84 442.78,258.23 443.37,257.62 443.96,257.01 444.54,256.40 445.13,255.80 445.72,255.19 446.31,254.58 446.90,253.97 447.49,253.36 448.07,252.75 448.66,252.14 449.25,251.53 449.84,250.92 450.43,250.31 451.02,249.70 451.61,249.09 452.19,248.48 452.78,247.87 453.37,247.27 453.96,246.66 454.55,246.05 455.14,245.45 455.72,244.84 456.31,244.24 456.90,243.63 457.49,243.03 458.08,242.43 458.67,241.83 459.25,241.23 459.84,240.63 460.43,240.03 461.02,239.43 461.61,238.84 462.20,238.24 462.79,237.65 463.37,237.06 463.96,236.47 464.55,235.88 465.14,235.30 465.73,234.71 466.32,234.13 466.90,233.54 467.49,232.96 468.08,232.39 468.67,231.81 469.26,231.24 469.85,230.66 470.44,230.09 471.02,229.53 471.61,228.96 472.20,228.40 472.79,227.83 473.38,227.27 473.97,226.72 474.55,226.16 475.14,225.61 475.73,225.06 476.32,224.52 476.91,223.97 477.50,223.43 478.08,222.89 478.67,222.36 479.26,221.82 479.85,221.29 480.44,220.77 481.03,220.24 481.62,219.72 482.20,219.20 482.79,218.69 483.38,218.18 483.97,217.67 484.56,217.17 485.15,216.67 485.73,216.17 486.32,215.67 486.91,215.18 487.50,214.70 487.50,220.30 486.91,220.77 486.32,221.25 485.73,221.73 485.15,222.22 484.56,222.71 483.97,223.20 483.38,223.70 482.79,224.20 482.20,224.70 481.62,225.21 481.03,225.72 480.44,226.23 479.85,226.75 479.26,227.27 478.67,227.79 478.08,228.31 477.50,228.84 476.91,229.37 476.32,229.91 475.73,230.44 475.14,230.98 474.55,231.53 473.97,232.07 473.38,232.62 472.79,233.17 472.20,233.72 471.61,234.27 471.02,234.83 470.44,235.39 469.85,235.95 469.26,236.51 468.67,237.07 468.08,237.64 467.49,238.21 466.90,238.78 466.32,239.35 465.73,239.93 465.14,240.50 464.55,241.08 463.96,241.66 463.37,242.24 462.79,242.82 462.20,243.40 461.61,243.98 461.02,244.57 460.43,245.16 459.84,245.74 459.25,246.33 458.67,246.92 458.08,247.51 457.49,248.11 456.90,248.70 456.31,249.29 455.72,249.89 455.14,250.48 454.55,251.07 453.96,251.67 453.37,252.27 452.78,252.86 452.19,253.46 451.61,254.06 451.02,254.65 450.43,255.25 449.84,255.85 449.25,256.45 448.66,257.05 448.07,257.64 447.49,258.24 446.90,258.84 446.31,259.44 445.72,260.03 445.13,260.63 444.54,261.23 443.96,261.82 443.37,262.42 442.78,263.01 442.19,263.61 441.60,264.20 441.01,264.79 440.42,265.38 439.84,265.97 439.25,266.56 438.66,267.15 438.07,267.74 437.48,268.33 436.89,268.91 436.31,269.50 435.72,270.08 435.13,270.66 434.54,271.24 433.95,271.82 433.36,272.40 432.77,272.97 432.19,273.55 431.60,274.12 431.01,274.69 430.42,275.26 429.83,275.82 429.24,276.39 428.66,276.95 428.07,277.51 427.48,278.07 426.89,278.62 426.30,279.17 425.71,279.72 425.13,280.26 424.54,280.81 423.95,281.35 423.36,281.88 422.77,282.42 422.18,282.95 421.59,283.47 421.01,284.00 420.42,284.52 419.83,285.03 419.24,285.55 418.65,286.06 418.06,286.57 417.48,287.07 416.89,287.57 416.30,288.07 415.71,288.57 415.12,289.06 414.53,289.55 413.94,290.03 413.36,290.51 412.77,290.99 412.18,291.47 411.59,291.94 411.00,292.41 410.41,292.87 409.83,293.33 409.24,293.79 408.65,294.24 408.06,294.69 407.47,295.14 406.88,295.58 406.29,296.02 405.71,296.46 405.12,296.89 404.53,297.32 403.94,297.75 403.35,298.17 402.76,298.59 402.18,299.00 401.59,299.41 401.00,299.82 400.41,300.22 399.82,300.62 399.23,301.02 398.65,301.41 398.06,301.79 397.47,302.17 396.88,302.55 396.29,302.92 395.70,303.29 395.11,303.65 394.53,304.01 393.94,304.36 393.35,304.71 392.76,305.05 392.17,305.38 391.58,305.71 391.00,306.04 390.41,306.36 389.82,306.68 389.23,306.98 388.64,307.29 388.05,307.59 387.46,307.88 386.88,308.16 386.29,308.44 385.70,308.72 385.11,308.99 384.52,309.25 383.93,309.51 383.35,309.76 382.76,310.00 382.17,310.24 381.58,310.47 380.99,310.69 380.40,310.91 379.82,311.12 379.23,311.33 378.64,311.52 378.05,311.72 377.46,311.90 376.87,312.08 376.28,312.25 375.70,312.41 375.11,312.57 374.52,312.72 373.93,312.86 373.34,312.99 372.75,313.12 372.17,313.24 371.58,313.35 370.99,313.46 370.40,313.55" fill="#a4a4a4"/>
<polyline points="370.40,312.65 370.99,312.55 371.58,312.44 372.17,312.32 372.75,312.19 373.34,312.05 373.93,311.91 374.52,311.76 375.11,311.61 375.70,311.44 376.28,311.27 376.87,311.09 377.46,310.91 378.05,310.72 378.64,310.52 379.23,310.32 379.82,310.10 380.40,309.89 380.99,309.66 381.58,309.43 382.17,309.19 382.76,308.95 383.35,308.70 383.93,308.44 384.52,308.18 385.11,307.91 385.70,307.63 386.29,307.35 386.88,307.06 387.46,306.77 388.05,306.47 388.64,306.16 389.23,305.85 389.82,305.53 390.41,305.21 391.00,304.88 391.58,304.55 392.17,304.21 392.76,303.86 393.35,303.51 393.94,303.16 394.53,302.80 395.11,302.43 395.70,302.06 396.29,301.68 396.88,301.30 397.47,300.91 398.06,300.52 398.65,300.12 399.23,299.72 399.82,299.32 400.41,298.91 401.00,298.49 401.59,298.07 402.18,297.65 402.76,297.22 403.35,296.78 403.94,296.35 404.53,295.90 405.12,295.46 405.71,295.01 406.29,294.55 406.88,294.09 407.47,293.63 408.06,293.16 408.65,292.69 409.24,292.22 409.83,291.74 410.41,291.26 411.00,290.77 411.59,290.28 412.18,289.79 412.77,289.29 413.36,288.79 413.94,288.29 414.53,287.78 415.12,287.27 415.71,286.76 416.30,286.24 416.89,285.72 417.48,285.20 418.06,284.67 418.65,284.14 419.24,283.61 419.83,283.08 420.42,282.54 421.01,282.00 421.59,281.46 422.18,280.91 422.77,280.36 423.36,279.81 423.95,279.26 424.54,278.70 425.13,278.15 425.71,277.59 426.30,277.02 426.89,276.46 427.48,275.89 428.07,275.33 428.66,274.75 429.24,274.18 429.83,273.61 430.42,273.03 431.01,272.45 431.60,271.88 432.19,271.29 432.77,270.71 433.36,270.13 433.95,269.54 434.54,268.96 435.13,268.37 435.72,267.78 436.31,267.19 436.89,266.59 437.48,266.00 438.07,265.41 438.66,264.81 439.25,264.22 439.84,263.62 440.42,263.02 441.01,262.42 441.60,261.82 442.19,261.22 442.78,260.62 443.37,260.02 443.96,259.42 444.54,258.82 445.13,258.21 445.72,257.61 446.31,257.01 446.90,256.40 447.49,255.80 448.07,255.20 448.66,254.59 449.25,253.99 449.84,253.38 450.43,252.78 451.02,252.18 451.61,251.57 452.19,250.97 452.78,250.37 453.37,249.77 453.96,249.16 454.55,248.56 455.14,247.96 455.72,247.36 456.31,246.76 456.90,246.17 457.49,245.57 458.08,244.97 458.67,244.38 459.25,243.78 459.84,243.19 460.43,242.59 461.02,242.00 461.61,241.41 462.20,240.82 462.79,240.23 463.37,239.65 463.96,239.06 464.55,238.48 465.14,237.90 465.73,237.32 466.32,236.74 466.90,236.16 467.49,235.59 468.08,235.01 468.67,234.44 469.26,233.87 469.85,233.31 470.44,232.74 471.02,232.18 471.61,231.62 472.20,231.06 472.79,230.50 473.38,229.95 473.97,229.39 474.55,228.84 475.14,228.30 475.73,227.75 476.32,227.21 476.91,226.67 477.50,226.14 478.08,225.60 478.67,225.07 479.26,224.55 479.85,224.02 480.44,223.50 481.03,222.98 481.62,222.47 482.20,221.95 482.79,221.44 483.38,220.94 483.97,220.44 484.56,219.94 485.15,219.44 485.73,218.95 486.32,218.46 486.91,217.98 487.50,217.50" fill="none" stroke="#959595" stroke-width="1.4"/>
<path d="M0 0H520V1.5H0ZM0 355.4H520V357H0ZM0 0H1.5V357H0ZM518.3 0H520V357H518.3Z" fill="#000"/>
</svg>
</body></html>
